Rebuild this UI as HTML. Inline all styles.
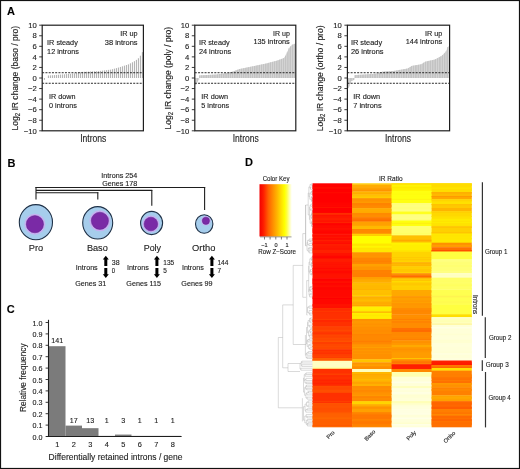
<!DOCTYPE html>
<html><head><meta charset="utf-8"><title>Figure</title>
<style>
html,body{margin:0;padding:0;background:#fff;}
svg{display:block;font-family:"Liberation Sans", sans-serif;will-change:transform;}
text{stroke:#1c1c1c;stroke-width:0.12px;}
</style></head>
<body>
<svg width="520" height="469" viewBox="0 0 520 469">
<rect x="0.5" y="0.5" width="519" height="468" fill="#fff" stroke="#111" stroke-width="1.2"/>
<text x="6.90" y="15.00" font-size="11" text-anchor="start" font-weight="bold" fill="#000">A</text>
<text x="7.40" y="166.70" font-size="11" text-anchor="start" font-weight="bold" fill="#000">B</text>
<text x="6.80" y="312.60" font-size="11" text-anchor="start" font-weight="bold" fill="#000">C</text>
<text x="245.00" y="166.30" font-size="11" text-anchor="start" font-weight="bold" fill="#000">D</text>
<line x1="44.40" y1="78.00" x2="44.40" y2="79.85" stroke="#a2a2a2" stroke-width="0.9"/>
<line x1="46.40" y1="77.97" x2="46.40" y2="78.00" stroke="#a2a2a2" stroke-width="0.9"/>
<line x1="48.40" y1="75.49" x2="48.40" y2="78.00" stroke="#a2a2a2" stroke-width="0.9"/>
<line x1="50.40" y1="75.36" x2="50.40" y2="78.00" stroke="#a2a2a2" stroke-width="0.9"/>
<line x1="52.40" y1="75.22" x2="52.40" y2="78.00" stroke="#a2a2a2" stroke-width="0.9"/>
<line x1="54.40" y1="75.08" x2="54.40" y2="78.00" stroke="#a2a2a2" stroke-width="0.9"/>
<line x1="56.40" y1="74.92" x2="56.40" y2="78.00" stroke="#a2a2a2" stroke-width="0.9"/>
<line x1="58.40" y1="74.76" x2="58.40" y2="78.00" stroke="#a2a2a2" stroke-width="0.9"/>
<line x1="60.40" y1="74.59" x2="60.40" y2="78.00" stroke="#a2a2a2" stroke-width="0.9"/>
<line x1="62.40" y1="74.43" x2="62.40" y2="78.00" stroke="#a2a2a2" stroke-width="0.9"/>
<line x1="64.40" y1="74.27" x2="64.40" y2="78.00" stroke="#a2a2a2" stroke-width="0.9"/>
<line x1="66.40" y1="74.11" x2="66.40" y2="78.00" stroke="#a2a2a2" stroke-width="0.9"/>
<line x1="68.40" y1="73.95" x2="68.40" y2="78.00" stroke="#a2a2a2" stroke-width="0.9"/>
<line x1="70.40" y1="73.79" x2="70.40" y2="78.00" stroke="#a2a2a2" stroke-width="0.9"/>
<line x1="72.40" y1="73.63" x2="72.40" y2="78.00" stroke="#a2a2a2" stroke-width="0.9"/>
<line x1="74.40" y1="73.39" x2="74.40" y2="78.00" stroke="#a2a2a2" stroke-width="0.9"/>
<line x1="76.40" y1="72.99" x2="76.40" y2="78.00" stroke="#a2a2a2" stroke-width="0.9"/>
<line x1="78.40" y1="72.58" x2="78.40" y2="78.00" stroke="#a2a2a2" stroke-width="0.9"/>
<line x1="80.40" y1="72.18" x2="80.40" y2="78.00" stroke="#a2a2a2" stroke-width="0.9"/>
<line x1="82.40" y1="71.89" x2="82.40" y2="78.00" stroke="#a2a2a2" stroke-width="0.9"/>
<line x1="84.40" y1="71.80" x2="84.40" y2="78.00" stroke="#a2a2a2" stroke-width="0.9"/>
<line x1="86.40" y1="71.70" x2="86.40" y2="78.00" stroke="#a2a2a2" stroke-width="0.9"/>
<line x1="88.40" y1="71.61" x2="88.40" y2="78.00" stroke="#a2a2a2" stroke-width="0.9"/>
<line x1="90.40" y1="71.51" x2="90.40" y2="78.00" stroke="#a2a2a2" stroke-width="0.9"/>
<line x1="92.40" y1="71.42" x2="92.40" y2="78.00" stroke="#a2a2a2" stroke-width="0.9"/>
<line x1="94.40" y1="71.32" x2="94.40" y2="78.00" stroke="#a2a2a2" stroke-width="0.9"/>
<line x1="96.40" y1="71.23" x2="96.40" y2="78.00" stroke="#a2a2a2" stroke-width="0.9"/>
<line x1="98.40" y1="71.12" x2="98.40" y2="78.00" stroke="#a2a2a2" stroke-width="0.9"/>
<line x1="100.40" y1="70.87" x2="100.40" y2="78.00" stroke="#a2a2a2" stroke-width="0.9"/>
<line x1="102.40" y1="70.63" x2="102.40" y2="78.00" stroke="#a2a2a2" stroke-width="0.9"/>
<line x1="104.40" y1="70.38" x2="104.40" y2="78.00" stroke="#a2a2a2" stroke-width="0.9"/>
<line x1="106.40" y1="70.13" x2="106.40" y2="78.00" stroke="#a2a2a2" stroke-width="0.9"/>
<line x1="108.40" y1="69.88" x2="108.40" y2="78.00" stroke="#a2a2a2" stroke-width="0.9"/>
<line x1="110.40" y1="69.63" x2="110.40" y2="78.00" stroke="#a2a2a2" stroke-width="0.9"/>
<line x1="112.40" y1="69.19" x2="112.40" y2="78.00" stroke="#a2a2a2" stroke-width="0.9"/>
<line x1="114.40" y1="68.65" x2="114.40" y2="78.00" stroke="#a2a2a2" stroke-width="0.9"/>
<line x1="116.40" y1="68.11" x2="116.40" y2="78.00" stroke="#a2a2a2" stroke-width="0.9"/>
<line x1="118.40" y1="67.57" x2="118.40" y2="78.00" stroke="#a2a2a2" stroke-width="0.9"/>
<line x1="120.40" y1="66.95" x2="120.40" y2="78.00" stroke="#a2a2a2" stroke-width="0.9"/>
<line x1="122.40" y1="66.30" x2="122.40" y2="78.00" stroke="#a2a2a2" stroke-width="0.9"/>
<line x1="124.40" y1="65.66" x2="124.40" y2="78.00" stroke="#a2a2a2" stroke-width="0.9"/>
<line x1="126.40" y1="65.01" x2="126.40" y2="78.00" stroke="#a2a2a2" stroke-width="0.9"/>
<line x1="128.40" y1="64.36" x2="128.40" y2="78.00" stroke="#a2a2a2" stroke-width="0.9"/>
<line x1="130.40" y1="63.35" x2="130.40" y2="78.00" stroke="#a2a2a2" stroke-width="0.9"/>
<line x1="132.40" y1="62.27" x2="132.40" y2="78.00" stroke="#a2a2a2" stroke-width="0.9"/>
<line x1="134.40" y1="61.19" x2="134.40" y2="78.00" stroke="#a2a2a2" stroke-width="0.9"/>
<line x1="136.40" y1="59.88" x2="136.40" y2="78.00" stroke="#a2a2a2" stroke-width="0.9"/>
<line x1="138.40" y1="58.26" x2="138.40" y2="78.00" stroke="#a2a2a2" stroke-width="0.9"/>
<line x1="140.40" y1="55.72" x2="140.40" y2="78.00" stroke="#a2a2a2" stroke-width="0.9"/>
<line x1="142.40" y1="52.13" x2="142.40" y2="78.00" stroke="#a2a2a2" stroke-width="0.9"/>
<line x1="42.20" y1="72.72" x2="143.40" y2="72.72" stroke="#2a2a2a" stroke-width="1.0" stroke-dasharray="2,1.25"/>
<line x1="42.20" y1="83.28" x2="143.40" y2="83.28" stroke="#2a2a2a" stroke-width="1.0" stroke-dasharray="2,1.25"/>
<rect x="42.20" y="25.20" width="101.20" height="105.60" fill="none" stroke="#1e1e1e" stroke-width="1.2"/>
<line x1="39.20" y1="25.20" x2="42.20" y2="25.20" stroke="#222" stroke-width="0.9"/>
<text x="36.70" y="27.90" font-size="7.7" text-anchor="end" fill="#1c1c1c">10</text>
<line x1="39.20" y1="35.76" x2="42.20" y2="35.76" stroke="#222" stroke-width="0.9"/>
<text x="36.70" y="38.46" font-size="7.7" text-anchor="end" fill="#1c1c1c">8</text>
<line x1="39.20" y1="46.32" x2="42.20" y2="46.32" stroke="#222" stroke-width="0.9"/>
<text x="36.70" y="49.02" font-size="7.7" text-anchor="end" fill="#1c1c1c">6</text>
<line x1="39.20" y1="56.88" x2="42.20" y2="56.88" stroke="#222" stroke-width="0.9"/>
<text x="36.70" y="59.58" font-size="7.7" text-anchor="end" fill="#1c1c1c">4</text>
<line x1="39.20" y1="67.44" x2="42.20" y2="67.44" stroke="#222" stroke-width="0.9"/>
<text x="36.70" y="70.14" font-size="7.7" text-anchor="end" fill="#1c1c1c">2</text>
<line x1="39.20" y1="78.00" x2="42.20" y2="78.00" stroke="#222" stroke-width="0.9"/>
<text x="36.70" y="80.70" font-size="7.7" text-anchor="end" fill="#1c1c1c">0</text>
<line x1="39.20" y1="88.56" x2="42.20" y2="88.56" stroke="#222" stroke-width="0.9"/>
<text x="36.70" y="91.26" font-size="7.7" text-anchor="end" fill="#1c1c1c">−2</text>
<line x1="39.20" y1="99.12" x2="42.20" y2="99.12" stroke="#222" stroke-width="0.9"/>
<text x="36.70" y="101.82" font-size="7.7" text-anchor="end" fill="#1c1c1c">−4</text>
<line x1="39.20" y1="109.68" x2="42.20" y2="109.68" stroke="#222" stroke-width="0.9"/>
<text x="36.70" y="112.38" font-size="7.7" text-anchor="end" fill="#1c1c1c">−6</text>
<line x1="39.20" y1="120.24" x2="42.20" y2="120.24" stroke="#222" stroke-width="0.9"/>
<text x="36.70" y="122.94" font-size="7.7" text-anchor="end" fill="#1c1c1c">−8</text>
<line x1="39.20" y1="130.80" x2="42.20" y2="130.80" stroke="#222" stroke-width="0.9"/>
<text x="36.70" y="133.50" font-size="7.7" text-anchor="end" fill="#1c1c1c">−10</text>
<text transform="translate(18.00,130.40) rotate(-90)" font-size="9.4" fill="#1c1c1c" textLength="104.60" lengthAdjust="spacingAndGlyphs">Log<tspan font-size="6.6" dy="2.2">2</tspan><tspan dy="-2.2"> IR change (baso / pro)</tspan></text>
<text x="80.20" y="142.30" font-size="10.4" text-anchor="start" textLength="26.20" lengthAdjust="spacingAndGlyphs" fill="#1c1c1c">Introns</text>
<text x="47.10" y="45.00" font-size="7.0" text-anchor="start" textLength="30.70" lengthAdjust="spacingAndGlyphs" fill="#1c1c1c">IR steady</text>
<text x="47.10" y="53.90" font-size="7.0" text-anchor="start" textLength="31.90" lengthAdjust="spacingAndGlyphs" fill="#1c1c1c">12 introns</text>
<text x="137.60" y="35.70" font-size="7.0" text-anchor="end" textLength="17.40" lengthAdjust="spacingAndGlyphs" fill="#1c1c1c">IR up</text>
<text x="137.60" y="44.60" font-size="7.0" text-anchor="end" textLength="32.80" lengthAdjust="spacingAndGlyphs" fill="#1c1c1c">38 introns</text>
<text x="49.00" y="99.20" font-size="7.0" text-anchor="start" textLength="26.50" lengthAdjust="spacingAndGlyphs" fill="#1c1c1c">IR down</text>
<text x="49.00" y="108.30" font-size="7.0" text-anchor="start" textLength="28.00" lengthAdjust="spacingAndGlyphs" fill="#1c1c1c">0 introns</text>
<rect x="195.60" y="78.00" width="0.56" height="6.86" fill="#c4c4c4"/>
<rect x="196.21" y="78.00" width="0.56" height="5.78" fill="#c4c4c4"/>
<rect x="196.82" y="78.00" width="0.56" height="4.70" fill="#c4c4c4"/>
<rect x="197.43" y="78.00" width="0.56" height="3.58" fill="#c4c4c4"/>
<rect x="198.03" y="78.00" width="0.56" height="2.46" fill="#c4c4c4"/>
<rect x="198.64" y="78.00" width="0.56" height="1.93" fill="#c4c4c4"/>
<rect x="199.25" y="75.36" width="0.56" height="2.64" fill="#c4c4c4"/>
<rect x="199.86" y="75.33" width="0.56" height="2.67" fill="#c4c4c4"/>
<rect x="200.47" y="75.30" width="0.56" height="2.70" fill="#c4c4c4"/>
<rect x="201.08" y="75.27" width="0.56" height="2.73" fill="#c4c4c4"/>
<rect x="201.69" y="75.24" width="0.56" height="2.76" fill="#c4c4c4"/>
<rect x="202.29" y="75.21" width="0.56" height="2.79" fill="#c4c4c4"/>
<rect x="202.90" y="75.18" width="0.56" height="2.82" fill="#c4c4c4"/>
<rect x="203.51" y="75.15" width="0.56" height="2.85" fill="#c4c4c4"/>
<rect x="204.12" y="75.12" width="0.56" height="2.88" fill="#c4c4c4"/>
<rect x="204.73" y="75.09" width="0.56" height="2.91" fill="#c4c4c4"/>
<rect x="205.34" y="75.06" width="0.56" height="2.94" fill="#c4c4c4"/>
<rect x="205.95" y="75.03" width="0.56" height="2.97" fill="#c4c4c4"/>
<rect x="206.55" y="75.00" width="0.56" height="3.00" fill="#c4c4c4"/>
<rect x="207.16" y="74.97" width="0.56" height="3.03" fill="#c4c4c4"/>
<rect x="207.77" y="74.94" width="0.56" height="3.06" fill="#c4c4c4"/>
<rect x="208.38" y="74.91" width="0.56" height="3.09" fill="#c4c4c4"/>
<rect x="208.99" y="74.88" width="0.56" height="3.12" fill="#c4c4c4"/>
<rect x="209.60" y="74.85" width="0.56" height="3.15" fill="#c4c4c4"/>
<rect x="210.20" y="74.82" width="0.56" height="3.18" fill="#c4c4c4"/>
<rect x="210.81" y="74.79" width="0.56" height="3.21" fill="#c4c4c4"/>
<rect x="211.42" y="74.76" width="0.56" height="3.24" fill="#c4c4c4"/>
<rect x="212.03" y="74.73" width="0.56" height="3.27" fill="#c4c4c4"/>
<rect x="212.64" y="74.70" width="0.56" height="3.30" fill="#c4c4c4"/>
<rect x="213.25" y="74.67" width="0.56" height="3.33" fill="#c4c4c4"/>
<rect x="213.86" y="74.65" width="0.56" height="3.35" fill="#c4c4c4"/>
<rect x="214.46" y="74.62" width="0.56" height="3.38" fill="#c4c4c4"/>
<rect x="215.07" y="74.59" width="0.56" height="3.41" fill="#c4c4c4"/>
<rect x="215.68" y="74.54" width="0.56" height="3.46" fill="#c4c4c4"/>
<rect x="216.29" y="74.45" width="0.56" height="3.55" fill="#c4c4c4"/>
<rect x="216.90" y="74.37" width="0.56" height="3.63" fill="#c4c4c4"/>
<rect x="217.51" y="74.29" width="0.56" height="3.71" fill="#c4c4c4"/>
<rect x="218.12" y="74.21" width="0.56" height="3.79" fill="#c4c4c4"/>
<rect x="218.72" y="74.13" width="0.56" height="3.87" fill="#c4c4c4"/>
<rect x="219.33" y="74.05" width="0.56" height="3.95" fill="#c4c4c4"/>
<rect x="219.94" y="73.97" width="0.56" height="4.03" fill="#c4c4c4"/>
<rect x="220.55" y="73.89" width="0.56" height="4.11" fill="#c4c4c4"/>
<rect x="221.16" y="73.81" width="0.56" height="4.19" fill="#c4c4c4"/>
<rect x="221.77" y="73.73" width="0.56" height="4.27" fill="#c4c4c4"/>
<rect x="222.38" y="73.64" width="0.56" height="4.36" fill="#c4c4c4"/>
<rect x="222.98" y="73.56" width="0.56" height="4.44" fill="#c4c4c4"/>
<rect x="223.59" y="73.48" width="0.56" height="4.52" fill="#c4c4c4"/>
<rect x="224.20" y="73.38" width="0.56" height="4.62" fill="#c4c4c4"/>
<rect x="224.81" y="73.28" width="0.56" height="4.72" fill="#c4c4c4"/>
<rect x="225.42" y="73.19" width="0.56" height="4.81" fill="#c4c4c4"/>
<rect x="226.03" y="73.09" width="0.56" height="4.91" fill="#c4c4c4"/>
<rect x="226.64" y="72.99" width="0.56" height="5.01" fill="#c4c4c4"/>
<rect x="227.24" y="72.89" width="0.56" height="5.11" fill="#c4c4c4"/>
<rect x="227.85" y="72.80" width="0.56" height="5.20" fill="#c4c4c4"/>
<rect x="228.46" y="72.69" width="0.56" height="5.31" fill="#c4c4c4"/>
<rect x="229.07" y="72.52" width="0.56" height="5.48" fill="#c4c4c4"/>
<rect x="229.68" y="72.36" width="0.56" height="5.64" fill="#c4c4c4"/>
<rect x="230.29" y="72.20" width="0.56" height="5.80" fill="#c4c4c4"/>
<rect x="230.90" y="72.04" width="0.56" height="5.96" fill="#c4c4c4"/>
<rect x="231.50" y="71.88" width="0.56" height="6.12" fill="#c4c4c4"/>
<rect x="232.11" y="71.71" width="0.56" height="6.29" fill="#c4c4c4"/>
<rect x="232.72" y="71.50" width="0.56" height="6.50" fill="#c4c4c4"/>
<rect x="233.33" y="71.27" width="0.56" height="6.73" fill="#c4c4c4"/>
<rect x="233.94" y="71.04" width="0.56" height="6.96" fill="#c4c4c4"/>
<rect x="234.55" y="70.81" width="0.56" height="7.19" fill="#c4c4c4"/>
<rect x="235.15" y="70.58" width="0.56" height="7.42" fill="#c4c4c4"/>
<rect x="235.76" y="70.35" width="0.56" height="7.65" fill="#c4c4c4"/>
<rect x="236.37" y="70.12" width="0.56" height="7.88" fill="#c4c4c4"/>
<rect x="236.98" y="69.88" width="0.56" height="8.12" fill="#c4c4c4"/>
<rect x="237.59" y="69.65" width="0.56" height="8.35" fill="#c4c4c4"/>
<rect x="238.20" y="69.42" width="0.56" height="8.58" fill="#c4c4c4"/>
<rect x="238.81" y="69.19" width="0.56" height="8.81" fill="#c4c4c4"/>
<rect x="239.41" y="68.99" width="0.56" height="9.01" fill="#c4c4c4"/>
<rect x="240.02" y="68.86" width="0.56" height="9.14" fill="#c4c4c4"/>
<rect x="240.63" y="68.74" width="0.56" height="9.26" fill="#c4c4c4"/>
<rect x="241.24" y="68.62" width="0.56" height="9.38" fill="#c4c4c4"/>
<rect x="241.85" y="68.49" width="0.56" height="9.51" fill="#c4c4c4"/>
<rect x="242.46" y="68.37" width="0.56" height="9.63" fill="#c4c4c4"/>
<rect x="243.07" y="68.24" width="0.56" height="9.76" fill="#c4c4c4"/>
<rect x="243.67" y="68.12" width="0.56" height="9.88" fill="#c4c4c4"/>
<rect x="244.28" y="67.99" width="0.56" height="10.01" fill="#c4c4c4"/>
<rect x="244.89" y="67.87" width="0.56" height="10.13" fill="#c4c4c4"/>
<rect x="245.50" y="67.74" width="0.56" height="10.26" fill="#c4c4c4"/>
<rect x="246.11" y="67.62" width="0.56" height="10.38" fill="#c4c4c4"/>
<rect x="246.72" y="67.49" width="0.56" height="10.51" fill="#c4c4c4"/>
<rect x="247.33" y="67.37" width="0.56" height="10.63" fill="#c4c4c4"/>
<rect x="247.93" y="67.24" width="0.56" height="10.76" fill="#c4c4c4"/>
<rect x="248.54" y="67.12" width="0.56" height="10.88" fill="#c4c4c4"/>
<rect x="249.15" y="67.00" width="0.56" height="11.00" fill="#c4c4c4"/>
<rect x="249.76" y="66.87" width="0.56" height="11.13" fill="#c4c4c4"/>
<rect x="250.37" y="66.75" width="0.56" height="11.25" fill="#c4c4c4"/>
<rect x="250.98" y="66.62" width="0.56" height="11.38" fill="#c4c4c4"/>
<rect x="251.59" y="66.50" width="0.56" height="11.50" fill="#c4c4c4"/>
<rect x="252.19" y="66.37" width="0.56" height="11.63" fill="#c4c4c4"/>
<rect x="252.80" y="66.25" width="0.56" height="11.75" fill="#c4c4c4"/>
<rect x="253.41" y="66.12" width="0.56" height="11.88" fill="#c4c4c4"/>
<rect x="254.02" y="65.99" width="0.56" height="12.01" fill="#c4c4c4"/>
<rect x="254.63" y="65.86" width="0.56" height="12.14" fill="#c4c4c4"/>
<rect x="255.24" y="65.74" width="0.56" height="12.26" fill="#c4c4c4"/>
<rect x="255.85" y="65.61" width="0.56" height="12.39" fill="#c4c4c4"/>
<rect x="256.45" y="65.48" width="0.56" height="12.52" fill="#c4c4c4"/>
<rect x="257.06" y="65.35" width="0.56" height="12.65" fill="#c4c4c4"/>
<rect x="257.67" y="65.23" width="0.56" height="12.77" fill="#c4c4c4"/>
<rect x="258.28" y="65.10" width="0.56" height="12.90" fill="#c4c4c4"/>
<rect x="258.89" y="64.97" width="0.56" height="13.03" fill="#c4c4c4"/>
<rect x="259.50" y="64.85" width="0.56" height="13.15" fill="#c4c4c4"/>
<rect x="260.10" y="64.72" width="0.56" height="13.28" fill="#c4c4c4"/>
<rect x="260.71" y="64.59" width="0.56" height="13.41" fill="#c4c4c4"/>
<rect x="261.32" y="64.46" width="0.56" height="13.54" fill="#c4c4c4"/>
<rect x="261.93" y="64.34" width="0.56" height="13.66" fill="#c4c4c4"/>
<rect x="262.54" y="64.21" width="0.56" height="13.79" fill="#c4c4c4"/>
<rect x="263.15" y="64.08" width="0.56" height="13.92" fill="#c4c4c4"/>
<rect x="263.76" y="63.95" width="0.56" height="14.05" fill="#c4c4c4"/>
<rect x="264.36" y="63.83" width="0.56" height="14.17" fill="#c4c4c4"/>
<rect x="264.97" y="63.70" width="0.56" height="14.30" fill="#c4c4c4"/>
<rect x="265.58" y="63.57" width="0.56" height="14.43" fill="#c4c4c4"/>
<rect x="266.19" y="63.44" width="0.56" height="14.56" fill="#c4c4c4"/>
<rect x="266.80" y="63.27" width="0.56" height="14.73" fill="#c4c4c4"/>
<rect x="267.41" y="63.11" width="0.56" height="14.89" fill="#c4c4c4"/>
<rect x="268.02" y="62.95" width="0.56" height="15.05" fill="#c4c4c4"/>
<rect x="268.62" y="62.79" width="0.56" height="15.21" fill="#c4c4c4"/>
<rect x="269.23" y="62.63" width="0.56" height="15.37" fill="#c4c4c4"/>
<rect x="269.84" y="62.46" width="0.56" height="15.54" fill="#c4c4c4"/>
<rect x="270.45" y="62.30" width="0.56" height="15.70" fill="#c4c4c4"/>
<rect x="271.06" y="62.14" width="0.56" height="15.86" fill="#c4c4c4"/>
<rect x="271.67" y="61.98" width="0.56" height="16.02" fill="#c4c4c4"/>
<rect x="272.28" y="61.82" width="0.56" height="16.18" fill="#c4c4c4"/>
<rect x="272.88" y="61.65" width="0.56" height="16.35" fill="#c4c4c4"/>
<rect x="273.49" y="61.49" width="0.56" height="16.51" fill="#c4c4c4"/>
<rect x="274.10" y="61.33" width="0.56" height="16.67" fill="#c4c4c4"/>
<rect x="274.71" y="61.17" width="0.56" height="16.83" fill="#c4c4c4"/>
<rect x="275.32" y="61.01" width="0.56" height="16.99" fill="#c4c4c4"/>
<rect x="275.93" y="60.84" width="0.56" height="17.16" fill="#c4c4c4"/>
<rect x="276.54" y="60.68" width="0.56" height="17.32" fill="#c4c4c4"/>
<rect x="277.14" y="60.50" width="0.56" height="17.50" fill="#c4c4c4"/>
<rect x="277.75" y="60.27" width="0.56" height="17.73" fill="#c4c4c4"/>
<rect x="278.36" y="60.03" width="0.56" height="17.97" fill="#c4c4c4"/>
<rect x="278.97" y="59.80" width="0.56" height="18.20" fill="#c4c4c4"/>
<rect x="279.58" y="59.57" width="0.56" height="18.43" fill="#c4c4c4"/>
<rect x="280.19" y="59.34" width="0.56" height="18.66" fill="#c4c4c4"/>
<rect x="280.80" y="59.11" width="0.56" height="18.89" fill="#c4c4c4"/>
<rect x="281.40" y="58.88" width="0.56" height="19.12" fill="#c4c4c4"/>
<rect x="282.01" y="58.65" width="0.56" height="19.35" fill="#c4c4c4"/>
<rect x="282.62" y="58.41" width="0.56" height="19.59" fill="#c4c4c4"/>
<rect x="283.23" y="58.18" width="0.56" height="19.82" fill="#c4c4c4"/>
<rect x="283.84" y="57.95" width="0.56" height="20.05" fill="#c4c4c4"/>
<rect x="284.45" y="56.89" width="0.56" height="21.11" fill="#c4c4c4"/>
<rect x="285.05" y="55.77" width="0.56" height="22.23" fill="#c4c4c4"/>
<rect x="285.66" y="54.65" width="0.56" height="23.35" fill="#c4c4c4"/>
<rect x="286.27" y="53.53" width="0.56" height="24.47" fill="#c4c4c4"/>
<rect x="286.88" y="52.22" width="0.56" height="25.78" fill="#c4c4c4"/>
<rect x="287.49" y="50.84" width="0.56" height="27.16" fill="#c4c4c4"/>
<rect x="288.10" y="49.45" width="0.56" height="28.55" fill="#c4c4c4"/>
<rect x="288.71" y="48.25" width="0.56" height="29.75" fill="#c4c4c4"/>
<rect x="289.31" y="47.56" width="0.56" height="30.44" fill="#c4c4c4"/>
<rect x="289.92" y="46.87" width="0.56" height="31.13" fill="#c4c4c4"/>
<rect x="290.53" y="46.19" width="0.56" height="31.81" fill="#c4c4c4"/>
<rect x="291.14" y="45.50" width="0.56" height="32.50" fill="#c4c4c4"/>
<rect x="291.75" y="44.81" width="0.56" height="33.19" fill="#c4c4c4"/>
<rect x="292.36" y="44.54" width="0.56" height="33.46" fill="#c4c4c4"/>
<rect x="292.97" y="44.33" width="0.56" height="33.67" fill="#c4c4c4"/>
<rect x="293.57" y="44.11" width="0.56" height="33.89" fill="#c4c4c4"/>
<rect x="294.18" y="43.90" width="0.56" height="34.10" fill="#c4c4c4"/>
<rect x="294.79" y="43.68" width="0.56" height="34.32" fill="#c4c4c4"/>
<rect x="195.60" y="78.00" width="0.50" height="6.86" fill="#b0b0b0"/>
<rect x="197.43" y="78.00" width="0.50" height="3.58" fill="#b0b0b0"/>
<rect x="199.25" y="75.36" width="0.50" height="2.64" fill="#b0b0b0"/>
<rect x="201.08" y="75.27" width="0.50" height="2.73" fill="#b0b0b0"/>
<rect x="202.90" y="75.18" width="0.50" height="2.82" fill="#b0b0b0"/>
<rect x="204.73" y="75.09" width="0.50" height="2.91" fill="#b0b0b0"/>
<rect x="206.55" y="75.00" width="0.50" height="3.00" fill="#b0b0b0"/>
<rect x="208.38" y="74.91" width="0.50" height="3.09" fill="#b0b0b0"/>
<rect x="210.20" y="74.82" width="0.50" height="3.18" fill="#b0b0b0"/>
<rect x="212.03" y="74.73" width="0.50" height="3.27" fill="#b0b0b0"/>
<rect x="213.86" y="74.65" width="0.50" height="3.35" fill="#b0b0b0"/>
<rect x="215.68" y="74.54" width="0.50" height="3.46" fill="#b0b0b0"/>
<rect x="217.51" y="74.29" width="0.50" height="3.71" fill="#b0b0b0"/>
<rect x="219.33" y="74.05" width="0.50" height="3.95" fill="#b0b0b0"/>
<rect x="221.16" y="73.81" width="0.50" height="4.19" fill="#b0b0b0"/>
<rect x="222.98" y="73.56" width="0.50" height="4.44" fill="#b0b0b0"/>
<rect x="224.81" y="73.28" width="0.50" height="4.72" fill="#b0b0b0"/>
<rect x="226.64" y="72.99" width="0.50" height="5.01" fill="#b0b0b0"/>
<rect x="228.46" y="72.69" width="0.50" height="5.31" fill="#b0b0b0"/>
<rect x="230.29" y="72.20" width="0.50" height="5.80" fill="#b0b0b0"/>
<rect x="232.11" y="71.71" width="0.50" height="6.29" fill="#b0b0b0"/>
<rect x="233.94" y="71.04" width="0.50" height="6.96" fill="#b0b0b0"/>
<rect x="235.76" y="70.35" width="0.50" height="7.65" fill="#b0b0b0"/>
<rect x="237.59" y="69.65" width="0.50" height="8.35" fill="#b0b0b0"/>
<rect x="239.41" y="68.99" width="0.50" height="9.01" fill="#b0b0b0"/>
<rect x="241.24" y="68.62" width="0.50" height="9.38" fill="#b0b0b0"/>
<rect x="243.07" y="68.24" width="0.50" height="9.76" fill="#b0b0b0"/>
<rect x="244.89" y="67.87" width="0.50" height="10.13" fill="#b0b0b0"/>
<rect x="246.72" y="67.49" width="0.50" height="10.51" fill="#b0b0b0"/>
<rect x="248.54" y="67.12" width="0.50" height="10.88" fill="#b0b0b0"/>
<rect x="250.37" y="66.75" width="0.50" height="11.25" fill="#b0b0b0"/>
<rect x="252.19" y="66.37" width="0.50" height="11.63" fill="#b0b0b0"/>
<rect x="254.02" y="65.99" width="0.50" height="12.01" fill="#b0b0b0"/>
<rect x="255.85" y="65.61" width="0.50" height="12.39" fill="#b0b0b0"/>
<rect x="257.67" y="65.23" width="0.50" height="12.77" fill="#b0b0b0"/>
<rect x="259.50" y="64.85" width="0.50" height="13.15" fill="#b0b0b0"/>
<rect x="261.32" y="64.46" width="0.50" height="13.54" fill="#b0b0b0"/>
<rect x="263.15" y="64.08" width="0.50" height="13.92" fill="#b0b0b0"/>
<rect x="264.97" y="63.70" width="0.50" height="14.30" fill="#b0b0b0"/>
<rect x="266.80" y="63.27" width="0.50" height="14.73" fill="#b0b0b0"/>
<rect x="268.62" y="62.79" width="0.50" height="15.21" fill="#b0b0b0"/>
<rect x="270.45" y="62.30" width="0.50" height="15.70" fill="#b0b0b0"/>
<rect x="272.28" y="61.82" width="0.50" height="16.18" fill="#b0b0b0"/>
<rect x="274.10" y="61.33" width="0.50" height="16.67" fill="#b0b0b0"/>
<rect x="275.93" y="60.84" width="0.50" height="17.16" fill="#b0b0b0"/>
<rect x="277.75" y="60.27" width="0.50" height="17.73" fill="#b0b0b0"/>
<rect x="279.58" y="59.57" width="0.50" height="18.43" fill="#b0b0b0"/>
<rect x="281.40" y="58.88" width="0.50" height="19.12" fill="#b0b0b0"/>
<rect x="283.23" y="58.18" width="0.50" height="19.82" fill="#b0b0b0"/>
<rect x="285.05" y="55.77" width="0.50" height="22.23" fill="#b0b0b0"/>
<rect x="286.88" y="52.22" width="0.50" height="25.78" fill="#b0b0b0"/>
<rect x="288.71" y="48.25" width="0.50" height="29.75" fill="#b0b0b0"/>
<rect x="290.53" y="46.19" width="0.50" height="31.81" fill="#b0b0b0"/>
<rect x="292.36" y="44.54" width="0.50" height="33.46" fill="#b0b0b0"/>
<rect x="294.18" y="43.90" width="0.50" height="34.10" fill="#b0b0b0"/>
<line x1="194.80" y1="72.72" x2="295.80" y2="72.72" stroke="#2a2a2a" stroke-width="1.0" stroke-dasharray="2,1.25"/>
<line x1="194.80" y1="83.28" x2="295.80" y2="83.28" stroke="#2a2a2a" stroke-width="1.0" stroke-dasharray="2,1.25"/>
<rect x="194.80" y="25.20" width="101.00" height="105.60" fill="none" stroke="#1e1e1e" stroke-width="1.2"/>
<line x1="191.80" y1="25.20" x2="194.80" y2="25.20" stroke="#222" stroke-width="0.9"/>
<text x="189.30" y="27.90" font-size="7.7" text-anchor="end" fill="#1c1c1c">10</text>
<line x1="191.80" y1="35.76" x2="194.80" y2="35.76" stroke="#222" stroke-width="0.9"/>
<text x="189.30" y="38.46" font-size="7.7" text-anchor="end" fill="#1c1c1c">8</text>
<line x1="191.80" y1="46.32" x2="194.80" y2="46.32" stroke="#222" stroke-width="0.9"/>
<text x="189.30" y="49.02" font-size="7.7" text-anchor="end" fill="#1c1c1c">6</text>
<line x1="191.80" y1="56.88" x2="194.80" y2="56.88" stroke="#222" stroke-width="0.9"/>
<text x="189.30" y="59.58" font-size="7.7" text-anchor="end" fill="#1c1c1c">4</text>
<line x1="191.80" y1="67.44" x2="194.80" y2="67.44" stroke="#222" stroke-width="0.9"/>
<text x="189.30" y="70.14" font-size="7.7" text-anchor="end" fill="#1c1c1c">2</text>
<line x1="191.80" y1="78.00" x2="194.80" y2="78.00" stroke="#222" stroke-width="0.9"/>
<text x="189.30" y="80.70" font-size="7.7" text-anchor="end" fill="#1c1c1c">0</text>
<line x1="191.80" y1="88.56" x2="194.80" y2="88.56" stroke="#222" stroke-width="0.9"/>
<text x="189.30" y="91.26" font-size="7.7" text-anchor="end" fill="#1c1c1c">−2</text>
<line x1="191.80" y1="99.12" x2="194.80" y2="99.12" stroke="#222" stroke-width="0.9"/>
<text x="189.30" y="101.82" font-size="7.7" text-anchor="end" fill="#1c1c1c">−4</text>
<line x1="191.80" y1="109.68" x2="194.80" y2="109.68" stroke="#222" stroke-width="0.9"/>
<text x="189.30" y="112.38" font-size="7.7" text-anchor="end" fill="#1c1c1c">−6</text>
<line x1="191.80" y1="120.24" x2="194.80" y2="120.24" stroke="#222" stroke-width="0.9"/>
<text x="189.30" y="122.94" font-size="7.7" text-anchor="end" fill="#1c1c1c">−8</text>
<line x1="191.80" y1="130.80" x2="194.80" y2="130.80" stroke="#222" stroke-width="0.9"/>
<text x="189.30" y="133.50" font-size="7.7" text-anchor="end" fill="#1c1c1c">−10</text>
<text transform="translate(170.60,129.60) rotate(-90)" font-size="9.4" fill="#1c1c1c" textLength="102.80" lengthAdjust="spacingAndGlyphs">Log<tspan font-size="6.6" dy="2.2">2</tspan><tspan dy="-2.2"> IR change (poly / pro)</tspan></text>
<text x="232.70" y="142.30" font-size="10.4" text-anchor="start" textLength="26.10" lengthAdjust="spacingAndGlyphs" fill="#1c1c1c">Introns</text>
<text x="198.90" y="45.30" font-size="7.0" text-anchor="start" textLength="30.80" lengthAdjust="spacingAndGlyphs" fill="#1c1c1c">IR steady</text>
<text x="198.90" y="53.90" font-size="7.0" text-anchor="start" textLength="32.30" lengthAdjust="spacingAndGlyphs" fill="#1c1c1c">24 introns</text>
<text x="289.80" y="35.70" font-size="7.0" text-anchor="end" textLength="16.80" lengthAdjust="spacingAndGlyphs" fill="#1c1c1c">IR up</text>
<text x="289.80" y="44.30" font-size="7.0" text-anchor="end" textLength="36.40" lengthAdjust="spacingAndGlyphs" fill="#1c1c1c">135 introns</text>
<text x="201.30" y="99.30" font-size="7.0" text-anchor="start" textLength="26.90" lengthAdjust="spacingAndGlyphs" fill="#1c1c1c">IR down</text>
<text x="201.30" y="108.20" font-size="7.0" text-anchor="start" textLength="27.90" lengthAdjust="spacingAndGlyphs" fill="#1c1c1c">5 introns</text>
<rect x="348.20" y="78.00" width="0.52" height="10.03" fill="#c4c4c4"/>
<rect x="348.77" y="78.00" width="0.52" height="9.03" fill="#c4c4c4"/>
<rect x="349.34" y="78.00" width="0.52" height="8.03" fill="#c4c4c4"/>
<rect x="349.91" y="78.00" width="0.52" height="5.26" fill="#c4c4c4"/>
<rect x="350.48" y="78.00" width="0.52" height="3.55" fill="#c4c4c4"/>
<rect x="351.05" y="78.00" width="0.52" height="3.25" fill="#c4c4c4"/>
<rect x="351.62" y="78.00" width="0.52" height="2.95" fill="#c4c4c4"/>
<rect x="352.19" y="78.00" width="0.52" height="2.65" fill="#c4c4c4"/>
<rect x="352.76" y="78.00" width="0.52" height="2.35" fill="#c4c4c4"/>
<rect x="353.34" y="78.00" width="0.52" height="2.05" fill="#c4c4c4"/>
<rect x="353.91" y="78.00" width="0.52" height="1.75" fill="#c4c4c4"/>
<rect x="354.48" y="75.09" width="0.52" height="2.91" fill="#c4c4c4"/>
<rect x="355.05" y="75.05" width="0.52" height="2.95" fill="#c4c4c4"/>
<rect x="355.62" y="75.02" width="0.52" height="2.98" fill="#c4c4c4"/>
<rect x="356.19" y="74.99" width="0.52" height="3.01" fill="#c4c4c4"/>
<rect x="356.76" y="74.95" width="0.52" height="3.05" fill="#c4c4c4"/>
<rect x="357.33" y="74.92" width="0.52" height="3.08" fill="#c4c4c4"/>
<rect x="357.90" y="74.88" width="0.52" height="3.12" fill="#c4c4c4"/>
<rect x="358.47" y="74.85" width="0.52" height="3.15" fill="#c4c4c4"/>
<rect x="359.04" y="74.82" width="0.52" height="3.18" fill="#c4c4c4"/>
<rect x="359.61" y="74.78" width="0.52" height="3.22" fill="#c4c4c4"/>
<rect x="360.18" y="74.75" width="0.52" height="3.25" fill="#c4c4c4"/>
<rect x="360.75" y="74.72" width="0.52" height="3.28" fill="#c4c4c4"/>
<rect x="361.32" y="74.68" width="0.52" height="3.32" fill="#c4c4c4"/>
<rect x="361.89" y="74.65" width="0.52" height="3.35" fill="#c4c4c4"/>
<rect x="362.47" y="74.62" width="0.52" height="3.38" fill="#c4c4c4"/>
<rect x="363.04" y="74.58" width="0.52" height="3.42" fill="#c4c4c4"/>
<rect x="363.61" y="74.55" width="0.52" height="3.45" fill="#c4c4c4"/>
<rect x="364.18" y="74.51" width="0.52" height="3.49" fill="#c4c4c4"/>
<rect x="364.75" y="74.47" width="0.52" height="3.53" fill="#c4c4c4"/>
<rect x="365.32" y="74.43" width="0.52" height="3.57" fill="#c4c4c4"/>
<rect x="365.89" y="74.40" width="0.52" height="3.60" fill="#c4c4c4"/>
<rect x="366.46" y="74.36" width="0.52" height="3.64" fill="#c4c4c4"/>
<rect x="367.03" y="74.32" width="0.52" height="3.68" fill="#c4c4c4"/>
<rect x="367.60" y="74.28" width="0.52" height="3.72" fill="#c4c4c4"/>
<rect x="368.17" y="74.25" width="0.52" height="3.75" fill="#c4c4c4"/>
<rect x="368.74" y="74.21" width="0.52" height="3.79" fill="#c4c4c4"/>
<rect x="369.31" y="74.17" width="0.52" height="3.83" fill="#c4c4c4"/>
<rect x="369.88" y="74.13" width="0.52" height="3.87" fill="#c4c4c4"/>
<rect x="370.45" y="74.10" width="0.52" height="3.90" fill="#c4c4c4"/>
<rect x="371.02" y="74.06" width="0.52" height="3.94" fill="#c4c4c4"/>
<rect x="371.60" y="74.02" width="0.52" height="3.98" fill="#c4c4c4"/>
<rect x="372.17" y="73.98" width="0.52" height="4.02" fill="#c4c4c4"/>
<rect x="372.74" y="73.95" width="0.52" height="4.05" fill="#c4c4c4"/>
<rect x="373.31" y="73.91" width="0.52" height="4.09" fill="#c4c4c4"/>
<rect x="373.88" y="73.87" width="0.52" height="4.13" fill="#c4c4c4"/>
<rect x="374.45" y="73.83" width="0.52" height="4.17" fill="#c4c4c4"/>
<rect x="375.02" y="73.80" width="0.52" height="4.20" fill="#c4c4c4"/>
<rect x="375.59" y="73.69" width="0.52" height="4.31" fill="#c4c4c4"/>
<rect x="376.16" y="73.52" width="0.52" height="4.48" fill="#c4c4c4"/>
<rect x="376.73" y="73.35" width="0.52" height="4.65" fill="#c4c4c4"/>
<rect x="377.30" y="73.18" width="0.52" height="4.82" fill="#c4c4c4"/>
<rect x="377.87" y="73.01" width="0.52" height="4.99" fill="#c4c4c4"/>
<rect x="378.44" y="72.84" width="0.52" height="5.16" fill="#c4c4c4"/>
<rect x="379.01" y="72.67" width="0.52" height="5.33" fill="#c4c4c4"/>
<rect x="379.58" y="72.49" width="0.52" height="5.51" fill="#c4c4c4"/>
<rect x="380.15" y="72.32" width="0.52" height="5.68" fill="#c4c4c4"/>
<rect x="380.73" y="72.15" width="0.52" height="5.85" fill="#c4c4c4"/>
<rect x="381.30" y="71.98" width="0.52" height="6.02" fill="#c4c4c4"/>
<rect x="381.87" y="71.81" width="0.52" height="6.19" fill="#c4c4c4"/>
<rect x="382.44" y="71.66" width="0.52" height="6.34" fill="#c4c4c4"/>
<rect x="383.01" y="71.62" width="0.52" height="6.38" fill="#c4c4c4"/>
<rect x="383.58" y="71.58" width="0.52" height="6.42" fill="#c4c4c4"/>
<rect x="384.15" y="71.54" width="0.52" height="6.46" fill="#c4c4c4"/>
<rect x="384.72" y="71.50" width="0.52" height="6.50" fill="#c4c4c4"/>
<rect x="385.29" y="71.46" width="0.52" height="6.54" fill="#c4c4c4"/>
<rect x="385.86" y="71.43" width="0.52" height="6.57" fill="#c4c4c4"/>
<rect x="386.43" y="71.39" width="0.52" height="6.61" fill="#c4c4c4"/>
<rect x="387.00" y="71.35" width="0.52" height="6.65" fill="#c4c4c4"/>
<rect x="387.57" y="71.31" width="0.52" height="6.69" fill="#c4c4c4"/>
<rect x="388.14" y="71.27" width="0.52" height="6.73" fill="#c4c4c4"/>
<rect x="388.71" y="71.23" width="0.52" height="6.77" fill="#c4c4c4"/>
<rect x="389.28" y="71.19" width="0.52" height="6.81" fill="#c4c4c4"/>
<rect x="389.86" y="71.15" width="0.52" height="6.85" fill="#c4c4c4"/>
<rect x="390.43" y="71.11" width="0.52" height="6.89" fill="#c4c4c4"/>
<rect x="391.00" y="71.08" width="0.52" height="6.92" fill="#c4c4c4"/>
<rect x="391.57" y="71.04" width="0.52" height="6.96" fill="#c4c4c4"/>
<rect x="392.14" y="71.00" width="0.52" height="7.00" fill="#c4c4c4"/>
<rect x="392.71" y="70.96" width="0.52" height="7.04" fill="#c4c4c4"/>
<rect x="393.28" y="70.92" width="0.52" height="7.08" fill="#c4c4c4"/>
<rect x="393.85" y="70.88" width="0.52" height="7.12" fill="#c4c4c4"/>
<rect x="394.42" y="70.80" width="0.52" height="7.20" fill="#c4c4c4"/>
<rect x="394.99" y="70.70" width="0.52" height="7.30" fill="#c4c4c4"/>
<rect x="395.56" y="70.60" width="0.52" height="7.40" fill="#c4c4c4"/>
<rect x="396.13" y="70.49" width="0.52" height="7.51" fill="#c4c4c4"/>
<rect x="396.70" y="70.39" width="0.52" height="7.61" fill="#c4c4c4"/>
<rect x="397.27" y="70.29" width="0.52" height="7.71" fill="#c4c4c4"/>
<rect x="397.84" y="70.19" width="0.52" height="7.81" fill="#c4c4c4"/>
<rect x="398.41" y="70.09" width="0.52" height="7.91" fill="#c4c4c4"/>
<rect x="398.99" y="69.99" width="0.52" height="8.01" fill="#c4c4c4"/>
<rect x="399.56" y="69.89" width="0.52" height="8.11" fill="#c4c4c4"/>
<rect x="400.13" y="69.79" width="0.52" height="8.21" fill="#c4c4c4"/>
<rect x="400.70" y="69.69" width="0.52" height="8.31" fill="#c4c4c4"/>
<rect x="401.27" y="69.59" width="0.52" height="8.41" fill="#c4c4c4"/>
<rect x="401.84" y="69.49" width="0.52" height="8.51" fill="#c4c4c4"/>
<rect x="402.41" y="69.39" width="0.52" height="8.61" fill="#c4c4c4"/>
<rect x="402.98" y="69.29" width="0.52" height="8.71" fill="#c4c4c4"/>
<rect x="403.55" y="69.19" width="0.52" height="8.81" fill="#c4c4c4"/>
<rect x="404.12" y="69.08" width="0.52" height="8.92" fill="#c4c4c4"/>
<rect x="404.69" y="68.98" width="0.52" height="9.02" fill="#c4c4c4"/>
<rect x="405.26" y="68.88" width="0.52" height="9.12" fill="#c4c4c4"/>
<rect x="405.83" y="68.78" width="0.52" height="9.22" fill="#c4c4c4"/>
<rect x="406.40" y="68.68" width="0.52" height="9.32" fill="#c4c4c4"/>
<rect x="406.97" y="68.58" width="0.52" height="9.42" fill="#c4c4c4"/>
<rect x="407.54" y="68.44" width="0.52" height="9.56" fill="#c4c4c4"/>
<rect x="408.12" y="68.08" width="0.52" height="9.92" fill="#c4c4c4"/>
<rect x="408.69" y="67.72" width="0.52" height="10.28" fill="#c4c4c4"/>
<rect x="409.26" y="67.37" width="0.52" height="10.63" fill="#c4c4c4"/>
<rect x="409.83" y="67.01" width="0.52" height="10.99" fill="#c4c4c4"/>
<rect x="410.40" y="66.65" width="0.52" height="11.35" fill="#c4c4c4"/>
<rect x="410.97" y="66.30" width="0.52" height="11.70" fill="#c4c4c4"/>
<rect x="411.54" y="65.94" width="0.52" height="12.06" fill="#c4c4c4"/>
<rect x="412.11" y="65.78" width="0.52" height="12.22" fill="#c4c4c4"/>
<rect x="412.68" y="65.68" width="0.52" height="12.32" fill="#c4c4c4"/>
<rect x="413.25" y="65.59" width="0.52" height="12.41" fill="#c4c4c4"/>
<rect x="413.82" y="65.49" width="0.52" height="12.51" fill="#c4c4c4"/>
<rect x="414.39" y="65.39" width="0.52" height="12.61" fill="#c4c4c4"/>
<rect x="414.96" y="65.30" width="0.52" height="12.70" fill="#c4c4c4"/>
<rect x="415.53" y="65.20" width="0.52" height="12.80" fill="#c4c4c4"/>
<rect x="416.10" y="65.10" width="0.52" height="12.90" fill="#c4c4c4"/>
<rect x="416.67" y="65.01" width="0.52" height="12.99" fill="#c4c4c4"/>
<rect x="417.25" y="64.91" width="0.52" height="13.09" fill="#c4c4c4"/>
<rect x="417.82" y="64.81" width="0.52" height="13.19" fill="#c4c4c4"/>
<rect x="418.39" y="64.72" width="0.52" height="13.28" fill="#c4c4c4"/>
<rect x="418.96" y="64.62" width="0.52" height="13.38" fill="#c4c4c4"/>
<rect x="419.53" y="64.52" width="0.52" height="13.48" fill="#c4c4c4"/>
<rect x="420.10" y="64.43" width="0.52" height="13.57" fill="#c4c4c4"/>
<rect x="420.67" y="64.33" width="0.52" height="13.67" fill="#c4c4c4"/>
<rect x="421.24" y="64.13" width="0.52" height="13.87" fill="#c4c4c4"/>
<rect x="421.81" y="63.76" width="0.52" height="14.24" fill="#c4c4c4"/>
<rect x="422.38" y="63.39" width="0.52" height="14.61" fill="#c4c4c4"/>
<rect x="422.95" y="63.03" width="0.52" height="14.97" fill="#c4c4c4"/>
<rect x="423.52" y="62.66" width="0.52" height="15.34" fill="#c4c4c4"/>
<rect x="424.09" y="62.30" width="0.52" height="15.70" fill="#c4c4c4"/>
<rect x="424.66" y="61.93" width="0.52" height="16.07" fill="#c4c4c4"/>
<rect x="425.23" y="61.61" width="0.52" height="16.39" fill="#c4c4c4"/>
<rect x="425.80" y="61.48" width="0.52" height="16.52" fill="#c4c4c4"/>
<rect x="426.38" y="61.36" width="0.52" height="16.64" fill="#c4c4c4"/>
<rect x="426.95" y="61.23" width="0.52" height="16.77" fill="#c4c4c4"/>
<rect x="427.52" y="61.10" width="0.52" height="16.90" fill="#c4c4c4"/>
<rect x="428.09" y="60.98" width="0.52" height="17.02" fill="#c4c4c4"/>
<rect x="428.66" y="60.85" width="0.52" height="17.15" fill="#c4c4c4"/>
<rect x="429.23" y="60.72" width="0.52" height="17.28" fill="#c4c4c4"/>
<rect x="429.80" y="60.60" width="0.52" height="17.40" fill="#c4c4c4"/>
<rect x="430.37" y="60.47" width="0.52" height="17.53" fill="#c4c4c4"/>
<rect x="430.94" y="60.35" width="0.52" height="17.65" fill="#c4c4c4"/>
<rect x="431.51" y="60.22" width="0.52" height="17.78" fill="#c4c4c4"/>
<rect x="432.08" y="60.09" width="0.52" height="17.91" fill="#c4c4c4"/>
<rect x="432.65" y="59.97" width="0.52" height="18.03" fill="#c4c4c4"/>
<rect x="433.22" y="59.84" width="0.52" height="18.16" fill="#c4c4c4"/>
<rect x="433.79" y="59.71" width="0.52" height="18.29" fill="#c4c4c4"/>
<rect x="434.36" y="59.59" width="0.52" height="18.41" fill="#c4c4c4"/>
<rect x="434.93" y="59.38" width="0.52" height="18.62" fill="#c4c4c4"/>
<rect x="435.51" y="59.07" width="0.52" height="18.93" fill="#c4c4c4"/>
<rect x="436.08" y="58.76" width="0.52" height="19.24" fill="#c4c4c4"/>
<rect x="436.65" y="58.45" width="0.52" height="19.55" fill="#c4c4c4"/>
<rect x="437.22" y="58.14" width="0.52" height="19.86" fill="#c4c4c4"/>
<rect x="437.79" y="57.83" width="0.52" height="20.17" fill="#c4c4c4"/>
<rect x="438.36" y="57.52" width="0.52" height="20.48" fill="#c4c4c4"/>
<rect x="438.93" y="57.21" width="0.52" height="20.79" fill="#c4c4c4"/>
<rect x="439.50" y="56.91" width="0.52" height="21.09" fill="#c4c4c4"/>
<rect x="440.07" y="56.60" width="0.52" height="21.40" fill="#c4c4c4"/>
<rect x="440.64" y="56.29" width="0.52" height="21.71" fill="#c4c4c4"/>
<rect x="441.21" y="55.98" width="0.52" height="22.02" fill="#c4c4c4"/>
<rect x="441.78" y="55.53" width="0.52" height="22.47" fill="#c4c4c4"/>
<rect x="442.35" y="54.95" width="0.52" height="23.05" fill="#c4c4c4"/>
<rect x="442.92" y="54.36" width="0.52" height="23.64" fill="#c4c4c4"/>
<rect x="443.49" y="53.78" width="0.52" height="24.22" fill="#c4c4c4"/>
<rect x="444.06" y="53.19" width="0.52" height="24.81" fill="#c4c4c4"/>
<rect x="444.64" y="52.61" width="0.52" height="25.39" fill="#c4c4c4"/>
<rect x="445.21" y="52.02" width="0.52" height="25.98" fill="#c4c4c4"/>
<rect x="445.78" y="51.22" width="0.52" height="26.78" fill="#c4c4c4"/>
<rect x="446.35" y="49.87" width="0.52" height="28.13" fill="#c4c4c4"/>
<rect x="446.92" y="48.52" width="0.52" height="29.48" fill="#c4c4c4"/>
<rect x="447.49" y="47.17" width="0.52" height="30.83" fill="#c4c4c4"/>
<rect x="448.06" y="46.62" width="0.52" height="31.38" fill="#c4c4c4"/>
<rect x="448.63" y="46.32" width="0.52" height="31.68" fill="#c4c4c4"/>
<rect x="348.20" y="78.00" width="0.50" height="10.03" fill="#b0b0b0"/>
<rect x="349.91" y="78.00" width="0.50" height="5.26" fill="#b0b0b0"/>
<rect x="351.62" y="78.00" width="0.50" height="2.95" fill="#b0b0b0"/>
<rect x="353.34" y="78.00" width="0.50" height="2.05" fill="#b0b0b0"/>
<rect x="355.05" y="75.05" width="0.50" height="2.95" fill="#b0b0b0"/>
<rect x="356.76" y="74.95" width="0.50" height="3.05" fill="#b0b0b0"/>
<rect x="358.47" y="74.85" width="0.50" height="3.15" fill="#b0b0b0"/>
<rect x="360.18" y="74.75" width="0.50" height="3.25" fill="#b0b0b0"/>
<rect x="361.89" y="74.65" width="0.50" height="3.35" fill="#b0b0b0"/>
<rect x="363.61" y="74.55" width="0.50" height="3.45" fill="#b0b0b0"/>
<rect x="365.32" y="74.43" width="0.50" height="3.57" fill="#b0b0b0"/>
<rect x="367.03" y="74.32" width="0.50" height="3.68" fill="#b0b0b0"/>
<rect x="368.74" y="74.21" width="0.50" height="3.79" fill="#b0b0b0"/>
<rect x="370.45" y="74.10" width="0.50" height="3.90" fill="#b0b0b0"/>
<rect x="372.17" y="73.98" width="0.50" height="4.02" fill="#b0b0b0"/>
<rect x="373.88" y="73.87" width="0.50" height="4.13" fill="#b0b0b0"/>
<rect x="375.59" y="73.69" width="0.50" height="4.31" fill="#b0b0b0"/>
<rect x="377.30" y="73.18" width="0.50" height="4.82" fill="#b0b0b0"/>
<rect x="379.01" y="72.67" width="0.50" height="5.33" fill="#b0b0b0"/>
<rect x="380.73" y="72.15" width="0.50" height="5.85" fill="#b0b0b0"/>
<rect x="382.44" y="71.66" width="0.50" height="6.34" fill="#b0b0b0"/>
<rect x="384.15" y="71.54" width="0.50" height="6.46" fill="#b0b0b0"/>
<rect x="385.86" y="71.43" width="0.50" height="6.57" fill="#b0b0b0"/>
<rect x="387.57" y="71.31" width="0.50" height="6.69" fill="#b0b0b0"/>
<rect x="389.28" y="71.19" width="0.50" height="6.81" fill="#b0b0b0"/>
<rect x="391.00" y="71.08" width="0.50" height="6.92" fill="#b0b0b0"/>
<rect x="392.71" y="70.96" width="0.50" height="7.04" fill="#b0b0b0"/>
<rect x="394.42" y="70.80" width="0.50" height="7.20" fill="#b0b0b0"/>
<rect x="396.13" y="70.49" width="0.50" height="7.51" fill="#b0b0b0"/>
<rect x="397.84" y="70.19" width="0.50" height="7.81" fill="#b0b0b0"/>
<rect x="399.56" y="69.89" width="0.50" height="8.11" fill="#b0b0b0"/>
<rect x="401.27" y="69.59" width="0.50" height="8.41" fill="#b0b0b0"/>
<rect x="402.98" y="69.29" width="0.50" height="8.71" fill="#b0b0b0"/>
<rect x="404.69" y="68.98" width="0.50" height="9.02" fill="#b0b0b0"/>
<rect x="406.40" y="68.68" width="0.50" height="9.32" fill="#b0b0b0"/>
<rect x="408.12" y="68.08" width="0.50" height="9.92" fill="#b0b0b0"/>
<rect x="409.83" y="67.01" width="0.50" height="10.99" fill="#b0b0b0"/>
<rect x="411.54" y="65.94" width="0.50" height="12.06" fill="#b0b0b0"/>
<rect x="413.25" y="65.59" width="0.50" height="12.41" fill="#b0b0b0"/>
<rect x="414.96" y="65.30" width="0.50" height="12.70" fill="#b0b0b0"/>
<rect x="416.67" y="65.01" width="0.50" height="12.99" fill="#b0b0b0"/>
<rect x="418.39" y="64.72" width="0.50" height="13.28" fill="#b0b0b0"/>
<rect x="420.10" y="64.43" width="0.50" height="13.57" fill="#b0b0b0"/>
<rect x="421.81" y="63.76" width="0.50" height="14.24" fill="#b0b0b0"/>
<rect x="423.52" y="62.66" width="0.50" height="15.34" fill="#b0b0b0"/>
<rect x="425.23" y="61.61" width="0.50" height="16.39" fill="#b0b0b0"/>
<rect x="426.95" y="61.23" width="0.50" height="16.77" fill="#b0b0b0"/>
<rect x="428.66" y="60.85" width="0.50" height="17.15" fill="#b0b0b0"/>
<rect x="430.37" y="60.47" width="0.50" height="17.53" fill="#b0b0b0"/>
<rect x="432.08" y="60.09" width="0.50" height="17.91" fill="#b0b0b0"/>
<rect x="433.79" y="59.71" width="0.50" height="18.29" fill="#b0b0b0"/>
<rect x="435.51" y="59.07" width="0.50" height="18.93" fill="#b0b0b0"/>
<rect x="437.22" y="58.14" width="0.50" height="19.86" fill="#b0b0b0"/>
<rect x="438.93" y="57.21" width="0.50" height="20.79" fill="#b0b0b0"/>
<rect x="440.64" y="56.29" width="0.50" height="21.71" fill="#b0b0b0"/>
<rect x="442.35" y="54.95" width="0.50" height="23.05" fill="#b0b0b0"/>
<rect x="444.06" y="53.19" width="0.50" height="24.81" fill="#b0b0b0"/>
<rect x="445.78" y="51.22" width="0.50" height="26.78" fill="#b0b0b0"/>
<rect x="447.49" y="47.17" width="0.50" height="30.83" fill="#b0b0b0"/>
<line x1="347.40" y1="72.72" x2="449.60" y2="72.72" stroke="#2a2a2a" stroke-width="1.0" stroke-dasharray="2,1.25"/>
<line x1="347.40" y1="83.28" x2="449.60" y2="83.28" stroke="#2a2a2a" stroke-width="1.0" stroke-dasharray="2,1.25"/>
<rect x="347.40" y="25.20" width="102.20" height="105.60" fill="none" stroke="#1e1e1e" stroke-width="1.2"/>
<line x1="344.40" y1="25.20" x2="347.40" y2="25.20" stroke="#222" stroke-width="0.9"/>
<text x="341.90" y="27.90" font-size="7.7" text-anchor="end" fill="#1c1c1c">10</text>
<line x1="344.40" y1="35.76" x2="347.40" y2="35.76" stroke="#222" stroke-width="0.9"/>
<text x="341.90" y="38.46" font-size="7.7" text-anchor="end" fill="#1c1c1c">8</text>
<line x1="344.40" y1="46.32" x2="347.40" y2="46.32" stroke="#222" stroke-width="0.9"/>
<text x="341.90" y="49.02" font-size="7.7" text-anchor="end" fill="#1c1c1c">6</text>
<line x1="344.40" y1="56.88" x2="347.40" y2="56.88" stroke="#222" stroke-width="0.9"/>
<text x="341.90" y="59.58" font-size="7.7" text-anchor="end" fill="#1c1c1c">4</text>
<line x1="344.40" y1="67.44" x2="347.40" y2="67.44" stroke="#222" stroke-width="0.9"/>
<text x="341.90" y="70.14" font-size="7.7" text-anchor="end" fill="#1c1c1c">2</text>
<line x1="344.40" y1="78.00" x2="347.40" y2="78.00" stroke="#222" stroke-width="0.9"/>
<text x="341.90" y="80.70" font-size="7.7" text-anchor="end" fill="#1c1c1c">0</text>
<line x1="344.40" y1="88.56" x2="347.40" y2="88.56" stroke="#222" stroke-width="0.9"/>
<text x="341.90" y="91.26" font-size="7.7" text-anchor="end" fill="#1c1c1c">−2</text>
<line x1="344.40" y1="99.12" x2="347.40" y2="99.12" stroke="#222" stroke-width="0.9"/>
<text x="341.90" y="101.82" font-size="7.7" text-anchor="end" fill="#1c1c1c">−4</text>
<line x1="344.40" y1="109.68" x2="347.40" y2="109.68" stroke="#222" stroke-width="0.9"/>
<text x="341.90" y="112.38" font-size="7.7" text-anchor="end" fill="#1c1c1c">−6</text>
<line x1="344.40" y1="120.24" x2="347.40" y2="120.24" stroke="#222" stroke-width="0.9"/>
<text x="341.90" y="122.94" font-size="7.7" text-anchor="end" fill="#1c1c1c">−8</text>
<line x1="344.40" y1="130.80" x2="347.40" y2="130.80" stroke="#222" stroke-width="0.9"/>
<text x="341.90" y="133.50" font-size="7.7" text-anchor="end" fill="#1c1c1c">−10</text>
<text transform="translate(323.20,131.30) rotate(-90)" font-size="9.4" fill="#1c1c1c" textLength="106.00" lengthAdjust="spacingAndGlyphs">Log<tspan font-size="6.6" dy="2.2">2</tspan><tspan dy="-2.2"> IR change (ortho / pro)</tspan></text>
<text x="385.00" y="142.30" font-size="10.4" text-anchor="start" textLength="26.00" lengthAdjust="spacingAndGlyphs" fill="#1c1c1c">Introns</text>
<text x="350.90" y="45.30" font-size="7.0" text-anchor="start" textLength="31.30" lengthAdjust="spacingAndGlyphs" fill="#1c1c1c">IR steady</text>
<text x="350.90" y="53.90" font-size="7.0" text-anchor="start" textLength="32.70" lengthAdjust="spacingAndGlyphs" fill="#1c1c1c">26 introns</text>
<text x="442.20" y="35.70" font-size="7.0" text-anchor="end" textLength="17.30" lengthAdjust="spacingAndGlyphs" fill="#1c1c1c">IR up</text>
<text x="442.20" y="44.30" font-size="7.0" text-anchor="end" textLength="36.50" lengthAdjust="spacingAndGlyphs" fill="#1c1c1c">144 introns</text>
<text x="353.30" y="99.30" font-size="7.0" text-anchor="start" textLength="26.90" lengthAdjust="spacingAndGlyphs" fill="#1c1c1c">IR down</text>
<text x="353.30" y="108.20" font-size="7.0" text-anchor="start" textLength="28.30" lengthAdjust="spacingAndGlyphs" fill="#1c1c1c">7 introns</text>
<line x1="36.00" y1="187.00" x2="36.00" y2="199.60" stroke="#1e1e1e" stroke-width="1.1"/>
<line x1="35.45" y1="187.50" x2="205.20" y2="187.50" stroke="#1e1e1e" stroke-width="1.1"/>
<line x1="204.60" y1="187.00" x2="204.60" y2="210.00" stroke="#1e1e1e" stroke-width="1.1"/>
<line x1="36.00" y1="190.40" x2="152.30" y2="190.40" stroke="#1e1e1e" stroke-width="1.1"/>
<line x1="151.80" y1="189.90" x2="151.80" y2="205.80" stroke="#1e1e1e" stroke-width="1.1"/>
<line x1="36.00" y1="192.80" x2="98.30" y2="192.80" stroke="#1e1e1e" stroke-width="1.1"/>
<line x1="97.80" y1="192.30" x2="97.80" y2="199.50" stroke="#1e1e1e" stroke-width="1.1"/>
<text x="119.30" y="178.40" font-size="7.1" text-anchor="middle" textLength="36.00" lengthAdjust="spacingAndGlyphs" fill="#1c1c1c">Introns 254</text>
<text x="119.70" y="185.60" font-size="7.1" text-anchor="middle" textLength="35.00" lengthAdjust="spacingAndGlyphs" fill="#1c1c1c">Genes 178</text>
<ellipse cx="35.9" cy="222.2" rx="16.6" ry="17.6" fill="#a6cdec" stroke="#1f3147" stroke-width="1.1"/>
<circle cx="34.9" cy="224.2" r="10.5" fill="#c6b0f0"/>
<circle cx="34.9" cy="224.2" r="8.6" fill="#7a2aa6" stroke="#5e1d86" stroke-width="0.5"/>
<ellipse cx="97.7" cy="222.8" rx="15.0" ry="16.2" fill="#a6cdec" stroke="#1f3147" stroke-width="1.1"/>
<circle cx="99.9" cy="220.8" r="10.5" fill="#c6b0f0"/>
<circle cx="99.9" cy="220.8" r="8.6" fill="#7a2aa6" stroke="#5e1d86" stroke-width="0.5"/>
<ellipse cx="151.6" cy="223.0" rx="11.0" ry="11.6" fill="#a6cdec" stroke="#1f3147" stroke-width="1.1"/>
<circle cx="150.9" cy="224.0" r="8.4" fill="#c6b0f0"/>
<circle cx="150.9" cy="224.0" r="6.8" fill="#7a2aa6" stroke="#5e1d86" stroke-width="0.5"/>
<ellipse cx="204.2" cy="224.0" rx="8.7" ry="9.3" fill="#a6cdec" stroke="#1f3147" stroke-width="1.1"/>
<circle cx="205.9" cy="220.8" r="4.8" fill="#c6b0f0"/>
<circle cx="205.9" cy="220.8" r="3.6" fill="#7a2aa6" stroke="#5e1d86" stroke-width="0.5"/>
<text x="28.80" y="250.60" font-size="9.0" text-anchor="start" textLength="14.40" lengthAdjust="spacingAndGlyphs" fill="#1c1c1c">Pro</text>
<text x="86.90" y="250.60" font-size="9.0" text-anchor="start" textLength="20.90" lengthAdjust="spacingAndGlyphs" fill="#1c1c1c">Baso</text>
<text x="143.70" y="250.80" font-size="9.0" text-anchor="start" textLength="17.40" lengthAdjust="spacingAndGlyphs" fill="#1c1c1c">Poly</text>
<text x="192.10" y="250.80" font-size="9.0" text-anchor="start" textLength="23.30" lengthAdjust="spacingAndGlyphs" fill="#1c1c1c">Ortho</text>
<text x="75.80" y="270.20" font-size="7.1" text-anchor="start" textLength="21.90" lengthAdjust="spacingAndGlyphs" fill="#1c1c1c">Introns</text>
<path d="M102.80,259.6 L105.80,255.8 L108.80,259.6 L107.30,259.6 L107.30,265.9 L104.30,265.9 L104.30,259.6 Z" fill="#000"/>
<path d="M104.30,267.9 L107.30,267.9 L107.30,274.3 L108.80,274.3 L105.80,278.0 L102.80,274.3 L104.30,274.3 Z" fill="#000"/>
<text x="111.80" y="264.90" font-size="7.1" text-anchor="start" textLength="7.80" lengthAdjust="spacingAndGlyphs" fill="#1c1c1c">38</text>
<text x="111.80" y="273.30" font-size="7.1" text-anchor="start" textLength="3.30" lengthAdjust="spacingAndGlyphs" fill="#1c1c1c">0</text>
<text x="75.20" y="285.50" font-size="7.1" text-anchor="start" textLength="31.10" lengthAdjust="spacingAndGlyphs" fill="#1c1c1c">Genes 31</text>
<text x="126.90" y="270.20" font-size="7.1" text-anchor="start" textLength="21.90" lengthAdjust="spacingAndGlyphs" fill="#1c1c1c">Introns</text>
<path d="M153.90,259.6 L156.90,255.8 L159.90,259.6 L158.40,259.6 L158.40,265.9 L155.40,265.9 L155.40,259.6 Z" fill="#000"/>
<path d="M155.40,267.9 L158.40,267.9 L158.40,274.3 L159.90,274.3 L156.90,278.0 L153.90,274.3 L155.40,274.3 Z" fill="#000"/>
<text x="163.30" y="264.90" font-size="7.1" text-anchor="start" textLength="10.90" lengthAdjust="spacingAndGlyphs" fill="#1c1c1c">135</text>
<text x="163.30" y="273.30" font-size="7.1" text-anchor="start" textLength="3.60" lengthAdjust="spacingAndGlyphs" fill="#1c1c1c">5</text>
<text x="126.30" y="285.50" font-size="7.1" text-anchor="start" textLength="34.70" lengthAdjust="spacingAndGlyphs" fill="#1c1c1c">Genes 115</text>
<text x="181.90" y="270.20" font-size="7.1" text-anchor="start" textLength="21.90" lengthAdjust="spacingAndGlyphs" fill="#1c1c1c">Introns</text>
<path d="M208.90,259.6 L211.90,255.8 L214.90,259.6 L213.40,259.6 L213.40,265.9 L210.40,265.9 L210.40,259.6 Z" fill="#000"/>
<path d="M210.40,267.9 L213.40,267.9 L213.40,274.3 L214.90,274.3 L211.90,278.0 L208.90,274.3 L210.40,274.3 Z" fill="#000"/>
<text x="217.40" y="264.90" font-size="7.1" text-anchor="start" textLength="10.90" lengthAdjust="spacingAndGlyphs" fill="#1c1c1c">144</text>
<text x="217.40" y="273.30" font-size="7.1" text-anchor="start" textLength="3.60" lengthAdjust="spacingAndGlyphs" fill="#1c1c1c">7</text>
<text x="181.30" y="285.50" font-size="7.1" text-anchor="start" textLength="31.20" lengthAdjust="spacingAndGlyphs" fill="#1c1c1c">Genes 99</text>
<rect x="49.00" y="346.20" width="16.50" height="90.30" fill="#7b7b7b"/>
<text x="57.25" y="343.10" font-size="7.1" text-anchor="middle" fill="#1c1c1c">141</text>
<text x="57.25" y="446.50" font-size="7.4" text-anchor="middle" fill="#1c1c1c">1</text>
<rect x="65.50" y="425.61" width="16.50" height="10.89" fill="#7b7b7b"/>
<text x="73.75" y="422.60" font-size="7.1" text-anchor="middle" fill="#1c1c1c">17</text>
<text x="73.75" y="446.50" font-size="7.4" text-anchor="middle" fill="#1c1c1c">2</text>
<rect x="82.00" y="428.17" width="16.50" height="8.33" fill="#7b7b7b"/>
<text x="90.25" y="422.60" font-size="7.1" text-anchor="middle" fill="#1c1c1c">13</text>
<text x="90.25" y="446.50" font-size="7.4" text-anchor="middle" fill="#1c1c1c">3</text>
<rect x="98.50" y="435.86" width="16.50" height="0.64" fill="#7b7b7b"/>
<text x="106.75" y="422.60" font-size="7.1" text-anchor="middle" fill="#1c1c1c">1</text>
<text x="106.75" y="446.50" font-size="7.4" text-anchor="middle" fill="#1c1c1c">4</text>
<rect x="115.00" y="434.58" width="16.50" height="1.92" fill="#7b7b7b"/>
<text x="123.25" y="422.60" font-size="7.1" text-anchor="middle" fill="#1c1c1c">3</text>
<text x="123.25" y="446.50" font-size="7.4" text-anchor="middle" fill="#1c1c1c">5</text>
<rect x="131.50" y="435.86" width="16.50" height="0.64" fill="#7b7b7b"/>
<text x="139.75" y="422.60" font-size="7.1" text-anchor="middle" fill="#1c1c1c">1</text>
<text x="139.75" y="446.50" font-size="7.4" text-anchor="middle" fill="#1c1c1c">6</text>
<rect x="148.00" y="435.86" width="16.50" height="0.64" fill="#7b7b7b"/>
<text x="156.25" y="422.60" font-size="7.1" text-anchor="middle" fill="#1c1c1c">1</text>
<text x="156.25" y="446.50" font-size="7.4" text-anchor="middle" fill="#1c1c1c">7</text>
<rect x="164.50" y="435.86" width="16.50" height="0.64" fill="#7b7b7b"/>
<text x="172.75" y="422.60" font-size="7.1" text-anchor="middle" fill="#1c1c1c">1</text>
<text x="172.75" y="446.50" font-size="7.4" text-anchor="middle" fill="#1c1c1c">8</text>
<line x1="48.50" y1="319.80" x2="48.50" y2="437.00" stroke="#1e1e1e" stroke-width="1.1"/>
<line x1="46.00" y1="436.50" x2="181.60" y2="436.50" stroke="#1e1e1e" stroke-width="1.1"/>
<line x1="45.60" y1="436.50" x2="48.50" y2="436.50" stroke="#222" stroke-width="0.9"/>
<text x="42.50" y="439.50" font-size="7.2" text-anchor="end" fill="#1c1c1c">0.0</text>
<line x1="45.60" y1="425.10" x2="48.50" y2="425.10" stroke="#222" stroke-width="0.9"/>
<text x="42.50" y="428.10" font-size="7.2" text-anchor="end" fill="#1c1c1c">0.1</text>
<line x1="45.60" y1="413.70" x2="48.50" y2="413.70" stroke="#222" stroke-width="0.9"/>
<text x="42.50" y="416.70" font-size="7.2" text-anchor="end" fill="#1c1c1c">0.2</text>
<line x1="45.60" y1="402.30" x2="48.50" y2="402.30" stroke="#222" stroke-width="0.9"/>
<text x="42.50" y="405.30" font-size="7.2" text-anchor="end" fill="#1c1c1c">0.3</text>
<line x1="45.60" y1="390.90" x2="48.50" y2="390.90" stroke="#222" stroke-width="0.9"/>
<text x="42.50" y="393.90" font-size="7.2" text-anchor="end" fill="#1c1c1c">0.4</text>
<line x1="45.60" y1="379.50" x2="48.50" y2="379.50" stroke="#222" stroke-width="0.9"/>
<text x="42.50" y="382.50" font-size="7.2" text-anchor="end" fill="#1c1c1c">0.5</text>
<line x1="45.60" y1="368.10" x2="48.50" y2="368.10" stroke="#222" stroke-width="0.9"/>
<text x="42.50" y="371.10" font-size="7.2" text-anchor="end" fill="#1c1c1c">0.6</text>
<line x1="45.60" y1="356.70" x2="48.50" y2="356.70" stroke="#222" stroke-width="0.9"/>
<text x="42.50" y="359.70" font-size="7.2" text-anchor="end" fill="#1c1c1c">0.7</text>
<line x1="45.60" y1="345.30" x2="48.50" y2="345.30" stroke="#222" stroke-width="0.9"/>
<text x="42.50" y="348.30" font-size="7.2" text-anchor="end" fill="#1c1c1c">0.8</text>
<line x1="45.60" y1="333.90" x2="48.50" y2="333.90" stroke="#222" stroke-width="0.9"/>
<text x="42.50" y="336.90" font-size="7.2" text-anchor="end" fill="#1c1c1c">0.9</text>
<line x1="45.60" y1="322.50" x2="48.50" y2="322.50" stroke="#222" stroke-width="0.9"/>
<text x="42.50" y="325.50" font-size="7.2" text-anchor="end" fill="#1c1c1c">1.0</text>
<text transform="translate(25.9,412.0) rotate(-90)" font-size="9.8" fill="#1c1c1c" textLength="68.6" lengthAdjust="spacingAndGlyphs">Relative frequency</text>
<text x="48.60" y="459.50" font-size="9.4" text-anchor="start" textLength="134.00" lengthAdjust="spacingAndGlyphs" fill="#1c1c1c">Differentially retained introns / gene</text>
<defs><linearGradient id="hk" x1="0" x2="1" y1="0" y2="0"><stop offset="0" stop-color="#f20000"/><stop offset="0.13" stop-color="#ff2000"/><stop offset="0.27" stop-color="#ff6000"/><stop offset="0.42" stop-color="#ff9000"/><stop offset="0.55" stop-color="#ffb800"/><stop offset="0.67" stop-color="#ffe000"/><stop offset="0.77" stop-color="#ffff00"/><stop offset="0.84" stop-color="#ffff40"/><stop offset="0.91" stop-color="#ffffa0"/><stop offset="0.98" stop-color="#fffff0"/><stop offset="1" stop-color="#ffffff"/></linearGradient></defs>
<rect x="259.50" y="184.20" width="32.50" height="52.30" fill="url(#hk)"/>
<text x="262.70" y="181.00" font-size="7.0" text-anchor="start" textLength="26.80" lengthAdjust="spacingAndGlyphs" fill="#1c1c1c">Color Key</text>
<line x1="260.00" y1="236.90" x2="291.50" y2="236.90" stroke="#555" stroke-width="0.6"/>
<line x1="264.50" y1="236.90" x2="264.50" y2="239.50" stroke="#444" stroke-width="0.7"/>
<line x1="270.10" y1="236.90" x2="270.10" y2="239.50" stroke="#444" stroke-width="0.7"/>
<line x1="275.80" y1="236.90" x2="275.80" y2="239.50" stroke="#444" stroke-width="0.7"/>
<line x1="281.40" y1="236.90" x2="281.40" y2="239.50" stroke="#444" stroke-width="0.7"/>
<line x1="287.00" y1="236.90" x2="287.00" y2="239.50" stroke="#444" stroke-width="0.7"/>
<text x="264.50" y="246.70" font-size="5.6" text-anchor="middle" fill="#1c1c1c">−1</text>
<text x="276.00" y="246.70" font-size="5.6" text-anchor="middle" fill="#1c1c1c">0</text>
<text x="287.00" y="246.70" font-size="5.6" text-anchor="middle" fill="#1c1c1c">1</text>
<text x="258.30" y="254.40" font-size="6.7" text-anchor="start" textLength="37.70" lengthAdjust="spacingAndGlyphs" fill="#1c1c1c">Row Z−Score</text>
<text x="390.80" y="180.80" font-size="6.8" text-anchor="middle" textLength="23.50" lengthAdjust="spacingAndGlyphs" fill="#1c1c1c">IR Ratio</text>
<rect x="312.50" y="183.30" width="39.90" height="23.00" fill="#ff0000"/>
<rect x="312.50" y="184.79" width="39.90" height="2.10" fill="#ff0200"/>
<rect x="312.50" y="186.89" width="39.90" height="2.01" fill="#ff0b00"/>
<rect x="312.50" y="190.47" width="39.90" height="1.93" fill="#ff0000"/>
<rect x="312.50" y="192.40" width="39.90" height="1.08" fill="#ff0e00"/>
<rect x="312.50" y="193.48" width="39.90" height="1.80" fill="#ff0000"/>
<rect x="312.50" y="197.44" width="39.90" height="1.70" fill="#ff0000"/>
<rect x="312.50" y="199.14" width="39.90" height="1.98" fill="#ff0000"/>
<rect x="312.50" y="201.12" width="39.90" height="1.15" fill="#ff0000"/>
<rect x="312.50" y="202.27" width="39.90" height="1.91" fill="#ff0400"/>
<rect x="312.50" y="204.18" width="39.90" height="1.82" fill="#ff0600"/>
<rect x="312.50" y="206.00" width="39.90" height="2.30" fill="#ff1000"/>
<rect x="312.50" y="206.00" width="39.90" height="1.28" fill="#ff0400"/>
<rect x="312.50" y="207.28" width="39.90" height="0.72" fill="#ff1300"/>
<rect x="312.50" y="208.00" width="39.90" height="5.30" fill="#ff0000"/>
<rect x="312.50" y="210.19" width="39.90" height="1.82" fill="#ff0000"/>
<rect x="312.50" y="212.01" width="39.90" height="0.99" fill="#ff0400"/>
<rect x="312.50" y="213.00" width="39.90" height="10.30" fill="#ff2000"/>
<rect x="312.50" y="213.00" width="39.90" height="1.90" fill="#ff2d00"/>
<rect x="312.50" y="214.90" width="39.90" height="1.28" fill="#ff1200"/>
<rect x="312.50" y="216.17" width="39.90" height="2.00" fill="#ff1800"/>
<rect x="312.50" y="218.18" width="39.90" height="2.11" fill="#ff1e00"/>
<rect x="312.50" y="220.28" width="39.90" height="2.17" fill="#ff1400"/>
<rect x="312.50" y="222.46" width="39.90" height="0.54" fill="#ff2700"/>
<rect x="312.50" y="223.00" width="39.90" height="11.80" fill="#ff0a00"/>
<rect x="312.50" y="223.00" width="39.90" height="1.25" fill="#ff0600"/>
<rect x="312.50" y="224.25" width="39.90" height="0.92" fill="#ff0000"/>
<rect x="312.50" y="226.25" width="39.90" height="0.91" fill="#ff0b00"/>
<rect x="312.50" y="228.29" width="39.90" height="1.48" fill="#ff1300"/>
<rect x="312.50" y="229.77" width="39.90" height="1.90" fill="#ff0800"/>
<rect x="312.50" y="231.67" width="39.90" height="1.05" fill="#ff0200"/>
<rect x="312.50" y="234.50" width="39.90" height="9.80" fill="#ff1400"/>
<rect x="312.50" y="234.50" width="39.90" height="2.20" fill="#ff0b00"/>
<rect x="312.50" y="238.11" width="39.90" height="1.73" fill="#ff0a00"/>
<rect x="312.50" y="239.84" width="39.90" height="1.18" fill="#ff1e00"/>
<rect x="312.50" y="242.71" width="39.90" height="1.29" fill="#ff0c00"/>
<rect x="312.50" y="244.00" width="39.90" height="6.30" fill="#ff1800"/>
<rect x="312.50" y="244.00" width="39.90" height="1.66" fill="#ff1d00"/>
<rect x="312.50" y="248.10" width="39.90" height="1.90" fill="#ff1600"/>
<rect x="312.50" y="250.00" width="39.90" height="3.30" fill="#ff2800"/>
<rect x="312.50" y="250.00" width="39.90" height="1.14" fill="#ff2100"/>
<rect x="312.50" y="251.14" width="39.90" height="1.86" fill="#ff2000"/>
<rect x="312.50" y="253.00" width="39.90" height="25.90" fill="#ff1200"/>
<rect x="312.50" y="255.73" width="39.90" height="1.40" fill="#ff0600"/>
<rect x="312.50" y="257.13" width="39.90" height="1.45" fill="#ff0500"/>
<rect x="312.50" y="258.58" width="39.90" height="1.57" fill="#ff1b00"/>
<rect x="312.50" y="260.14" width="39.90" height="1.82" fill="#ff1e00"/>
<rect x="312.50" y="261.96" width="39.90" height="2.08" fill="#ff1400"/>
<rect x="312.50" y="265.17" width="39.90" height="0.99" fill="#ff1500"/>
<rect x="312.50" y="267.90" width="39.90" height="1.00" fill="#ff0a00"/>
<rect x="312.50" y="268.90" width="39.90" height="1.87" fill="#ff1100"/>
<rect x="312.50" y="270.77" width="39.90" height="1.48" fill="#ff0900"/>
<rect x="312.50" y="272.25" width="39.90" height="1.27" fill="#ff0800"/>
<rect x="312.50" y="273.52" width="39.90" height="1.02" fill="#ff1200"/>
<rect x="312.50" y="278.60" width="39.90" height="26.70" fill="#ff0800"/>
<rect x="312.50" y="278.60" width="39.90" height="1.08" fill="#ff0000"/>
<rect x="312.50" y="279.68" width="39.90" height="1.52" fill="#ff0300"/>
<rect x="312.50" y="281.20" width="39.90" height="2.15" fill="#ff0e00"/>
<rect x="312.50" y="283.35" width="39.90" height="1.00" fill="#ff0300"/>
<rect x="312.50" y="285.66" width="39.90" height="1.00" fill="#ff1100"/>
<rect x="312.50" y="287.62" width="39.90" height="1.86" fill="#ff0400"/>
<rect x="312.50" y="296.37" width="39.90" height="1.71" fill="#ff0c00"/>
<rect x="312.50" y="298.08" width="39.90" height="0.92" fill="#ff0000"/>
<rect x="312.50" y="304.18" width="39.90" height="0.82" fill="#ff1400"/>
<rect x="312.50" y="305.00" width="39.90" height="3.30" fill="#ff1000"/>
<rect x="312.50" y="305.00" width="39.90" height="1.60" fill="#ff1200"/>
<rect x="312.50" y="308.00" width="39.90" height="6.30" fill="#ff2800"/>
<rect x="312.50" y="308.00" width="39.90" height="1.53" fill="#ff3000"/>
<rect x="312.50" y="310.57" width="39.90" height="1.76" fill="#ff3600"/>
<rect x="312.50" y="312.33" width="39.90" height="0.91" fill="#ff2f00"/>
<rect x="312.50" y="313.24" width="39.90" height="0.76" fill="#ff3200"/>
<rect x="312.50" y="314.00" width="39.90" height="12.80" fill="#ff3000"/>
<rect x="312.50" y="318.88" width="39.90" height="1.16" fill="#ff3b00"/>
<rect x="312.50" y="320.04" width="39.90" height="1.88" fill="#ff2800"/>
<rect x="312.50" y="323.32" width="39.90" height="1.31" fill="#ff3100"/>
<rect x="312.50" y="325.98" width="39.90" height="0.52" fill="#ff2a00"/>
<rect x="312.50" y="326.50" width="39.90" height="12.80" fill="#ff4000"/>
<rect x="312.50" y="326.50" width="39.90" height="1.97" fill="#ff4100"/>
<rect x="312.50" y="328.47" width="39.90" height="1.26" fill="#ff3f00"/>
<rect x="312.50" y="329.73" width="39.90" height="1.40" fill="#ff4700"/>
<rect x="312.50" y="332.43" width="39.90" height="2.18" fill="#ff3400"/>
<rect x="312.50" y="334.61" width="39.90" height="1.98" fill="#ff4500"/>
<rect x="312.50" y="337.54" width="39.90" height="1.46" fill="#ff4b00"/>
<rect x="312.50" y="339.00" width="39.90" height="10.90" fill="#ff4800"/>
<rect x="312.50" y="340.63" width="39.90" height="1.43" fill="#ff5200"/>
<rect x="312.50" y="342.06" width="39.90" height="1.98" fill="#ff3e00"/>
<rect x="312.50" y="345.97" width="39.90" height="1.05" fill="#ff4b00"/>
<rect x="312.50" y="349.60" width="39.90" height="8.70" fill="#ff3800"/>
<rect x="312.50" y="349.60" width="39.90" height="1.16" fill="#ff2f00"/>
<rect x="312.50" y="352.59" width="39.90" height="1.60" fill="#ff3100"/>
<rect x="312.50" y="354.18" width="39.90" height="1.25" fill="#ff4000"/>
<rect x="312.50" y="355.44" width="39.90" height="2.13" fill="#ff4200"/>
<rect x="312.50" y="358.00" width="39.90" height="3.10" fill="#ff6000"/>
<rect x="312.50" y="359.11" width="39.90" height="1.69" fill="#ff5f00"/>
<rect x="312.50" y="360.80" width="39.90" height="7.00" fill="#ffffc0"/>
<rect x="312.50" y="362.91" width="39.90" height="1.07" fill="#ffffc6"/>
<rect x="312.50" y="363.98" width="39.90" height="2.05" fill="#ffffc3"/>
<rect x="312.50" y="367.50" width="39.90" height="1.60" fill="#ffff90"/>
<rect x="312.50" y="368.80" width="39.90" height="17.50" fill="#ff3000"/>
<rect x="312.50" y="373.43" width="39.90" height="1.83" fill="#ff3e00"/>
<rect x="312.50" y="375.27" width="39.90" height="1.41" fill="#ff2b00"/>
<rect x="312.50" y="379.59" width="39.90" height="2.01" fill="#ff2400"/>
<rect x="312.50" y="381.60" width="39.90" height="0.95" fill="#ff2f00"/>
<rect x="312.50" y="382.55" width="39.90" height="1.90" fill="#ff2200"/>
<rect x="312.50" y="386.00" width="39.90" height="7.30" fill="#ff4800"/>
<rect x="312.50" y="386.00" width="39.90" height="1.46" fill="#ff4b00"/>
<rect x="312.50" y="388.79" width="39.90" height="1.08" fill="#ff4a00"/>
<rect x="312.50" y="389.88" width="39.90" height="2.07" fill="#ff4f00"/>
<rect x="312.50" y="393.00" width="39.90" height="10.30" fill="#ff3000"/>
<rect x="312.50" y="394.54" width="39.90" height="1.01" fill="#ff3200"/>
<rect x="312.50" y="397.18" width="39.90" height="1.63" fill="#ff3200"/>
<rect x="312.50" y="400.81" width="39.90" height="1.31" fill="#ff3d00"/>
<rect x="312.50" y="403.00" width="39.90" height="9.30" fill="#ff5000"/>
<rect x="312.50" y="403.00" width="39.90" height="1.30" fill="#ff5300"/>
<rect x="312.50" y="405.88" width="39.90" height="1.16" fill="#ff5200"/>
<rect x="312.50" y="407.04" width="39.90" height="0.91" fill="#ff5300"/>
<rect x="312.50" y="407.94" width="39.90" height="2.16" fill="#ff4e00"/>
<rect x="312.50" y="412.00" width="39.90" height="15.30" fill="#ff6000"/>
<rect x="312.50" y="412.00" width="39.90" height="1.06" fill="#ff5700"/>
<rect x="312.50" y="413.06" width="39.90" height="0.99" fill="#ff5f00"/>
<rect x="312.50" y="416.14" width="39.90" height="1.43" fill="#ff6100"/>
<rect x="312.50" y="417.57" width="39.90" height="1.07" fill="#ff6c00"/>
<rect x="312.50" y="420.75" width="39.90" height="1.58" fill="#ff5f00"/>
<rect x="312.50" y="425.10" width="39.90" height="0.93" fill="#ff5900"/>
<rect x="312.50" y="426.03" width="39.90" height="0.92" fill="#ff6900"/>
<rect x="352.10" y="183.30" width="39.90" height="1.50" fill="#ffd000"/>
<rect x="352.10" y="184.50" width="39.90" height="3.40" fill="#ffb000"/>
<rect x="352.10" y="185.54" width="39.90" height="1.06" fill="#ffaa00"/>
<rect x="352.10" y="187.60" width="39.90" height="4.20" fill="#ff9c00"/>
<rect x="352.10" y="187.60" width="39.90" height="2.04" fill="#ffa200"/>
<rect x="352.10" y="189.64" width="39.90" height="1.44" fill="#ff9300"/>
<rect x="352.10" y="191.50" width="39.90" height="3.30" fill="#ffb400"/>
<rect x="352.10" y="193.10" width="39.90" height="1.40" fill="#ffac00"/>
<rect x="352.10" y="194.50" width="39.90" height="4.20" fill="#ffc000"/>
<rect x="352.10" y="196.51" width="39.90" height="1.89" fill="#ffc900"/>
<rect x="352.10" y="198.40" width="39.90" height="4.90" fill="#ff9a00"/>
<rect x="352.10" y="198.40" width="39.90" height="1.72" fill="#ff9100"/>
<rect x="352.10" y="200.12" width="39.90" height="1.31" fill="#ff9200"/>
<rect x="352.10" y="203.00" width="39.90" height="5.70" fill="#ff8a00"/>
<rect x="352.10" y="203.00" width="39.90" height="2.05" fill="#ff8300"/>
<rect x="352.10" y="205.05" width="39.90" height="1.07" fill="#ff8800"/>
<rect x="352.10" y="208.40" width="39.90" height="4.90" fill="#ffa800"/>
<rect x="352.10" y="208.40" width="39.90" height="1.06" fill="#ffaf00"/>
<rect x="352.10" y="209.46" width="39.90" height="1.94" fill="#ffac00"/>
<rect x="352.10" y="213.00" width="39.90" height="4.90" fill="#ff8800"/>
<rect x="352.10" y="213.00" width="39.90" height="2.16" fill="#ff8a00"/>
<rect x="352.10" y="215.16" width="39.90" height="1.73" fill="#ff8f00"/>
<rect x="352.10" y="217.60" width="39.90" height="4.20" fill="#ff7000"/>
<rect x="352.10" y="217.60" width="39.90" height="1.53" fill="#ff7a00"/>
<rect x="352.10" y="219.13" width="39.90" height="1.62" fill="#ff7400"/>
<rect x="352.10" y="220.74" width="39.90" height="0.76" fill="#ff6500"/>
<rect x="352.10" y="221.50" width="39.90" height="4.80" fill="#ffa000"/>
<rect x="352.10" y="224.85" width="39.90" height="1.02" fill="#ffa700"/>
<rect x="352.10" y="226.00" width="39.90" height="3.30" fill="#ffb800"/>
<rect x="352.10" y="227.50" width="39.90" height="1.32" fill="#ffba00"/>
<rect x="352.10" y="229.00" width="39.90" height="5.10" fill="#ff8a00"/>
<rect x="352.10" y="229.00" width="39.90" height="1.36" fill="#ff8700"/>
<rect x="352.10" y="231.28" width="39.90" height="2.00" fill="#ff8a00"/>
<rect x="352.10" y="233.28" width="39.90" height="0.52" fill="#ff8200"/>
<rect x="352.10" y="233.80" width="39.90" height="2.50" fill="#ffc800"/>
<rect x="352.10" y="233.80" width="39.90" height="1.69" fill="#ffd300"/>
<rect x="352.10" y="236.00" width="39.90" height="8.30" fill="#ffff00"/>
<rect x="352.10" y="242.94" width="39.90" height="1.06" fill="#fff400"/>
<rect x="352.10" y="244.00" width="39.90" height="8.80" fill="#ffe800"/>
<rect x="352.10" y="245.87" width="39.90" height="1.96" fill="#fff600"/>
<rect x="352.10" y="247.83" width="39.90" height="1.33" fill="#ffe500"/>
<rect x="352.10" y="252.50" width="39.90" height="5.60" fill="#ff9400"/>
<rect x="352.10" y="252.50" width="39.90" height="0.99" fill="#ff9500"/>
<rect x="352.10" y="256.71" width="39.90" height="0.96" fill="#ff9b00"/>
<rect x="352.10" y="257.80" width="39.90" height="6.50" fill="#ff8800"/>
<rect x="352.10" y="257.80" width="39.90" height="1.29" fill="#ff8600"/>
<rect x="352.10" y="259.09" width="39.90" height="1.64" fill="#ff8600"/>
<rect x="352.10" y="260.73" width="39.90" height="1.57" fill="#ff8000"/>
<rect x="352.10" y="264.00" width="39.90" height="6.30" fill="#ff9c00"/>
<rect x="352.10" y="264.00" width="39.90" height="2.17" fill="#ffa100"/>
<rect x="352.10" y="266.17" width="39.90" height="1.04" fill="#ff9c00"/>
<rect x="352.10" y="267.21" width="39.90" height="1.42" fill="#ff9400"/>
<rect x="352.10" y="268.64" width="39.90" height="1.36" fill="#ff9600"/>
<rect x="352.10" y="270.00" width="39.90" height="7.30" fill="#ff8000"/>
<rect x="352.10" y="271.23" width="39.90" height="1.62" fill="#ff8200"/>
<rect x="352.10" y="277.00" width="39.90" height="5.80" fill="#ffa800"/>
<rect x="352.10" y="277.00" width="39.90" height="1.89" fill="#ff9f00"/>
<rect x="352.10" y="280.29" width="39.90" height="2.01" fill="#ffad00"/>
<rect x="352.10" y="282.50" width="39.90" height="7.80" fill="#ffb800"/>
<rect x="352.10" y="283.48" width="39.90" height="1.45" fill="#ffbd00"/>
<rect x="352.10" y="284.92" width="39.90" height="1.31" fill="#ffb900"/>
<rect x="352.10" y="289.25" width="39.90" height="0.75" fill="#ffb100"/>
<rect x="352.10" y="290.00" width="39.90" height="6.60" fill="#ffc000"/>
<rect x="352.10" y="293.09" width="39.90" height="0.97" fill="#ffbe00"/>
<rect x="352.10" y="295.03" width="39.90" height="1.27" fill="#ffce00"/>
<rect x="352.10" y="296.30" width="39.90" height="10.50" fill="#ffb000"/>
<rect x="352.10" y="298.72" width="39.90" height="0.96" fill="#ffbb00"/>
<rect x="352.10" y="299.68" width="39.90" height="1.84" fill="#ffbc00"/>
<rect x="352.10" y="302.73" width="39.90" height="0.97" fill="#ffa500"/>
<rect x="352.10" y="303.70" width="39.90" height="1.16" fill="#ffb200"/>
<rect x="352.10" y="304.86" width="39.90" height="1.10" fill="#ffa600"/>
<rect x="352.10" y="305.97" width="39.90" height="0.53" fill="#ffaa00"/>
<rect x="352.10" y="306.50" width="39.90" height="5.30" fill="#fff000"/>
<rect x="352.10" y="309.60" width="39.90" height="1.90" fill="#ffeb00"/>
<rect x="352.10" y="311.50" width="39.90" height="1.80" fill="#ffc800"/>
<rect x="352.10" y="311.50" width="39.90" height="1.50" fill="#ffbd00"/>
<rect x="352.10" y="313.00" width="39.90" height="6.30" fill="#ffee00"/>
<rect x="352.10" y="313.00" width="39.90" height="1.55" fill="#fff000"/>
<rect x="352.10" y="314.55" width="39.90" height="1.71" fill="#ffe800"/>
<rect x="352.10" y="317.96" width="39.90" height="1.04" fill="#ffe800"/>
<rect x="352.10" y="319.00" width="39.90" height="9.30" fill="#ff9800"/>
<rect x="352.10" y="319.00" width="39.90" height="1.88" fill="#ff9100"/>
<rect x="352.10" y="323.59" width="39.90" height="1.72" fill="#ff9200"/>
<rect x="352.10" y="326.76" width="39.90" height="1.03" fill="#ff8c00"/>
<rect x="352.10" y="328.00" width="39.90" height="8.10" fill="#ff9000"/>
<rect x="352.10" y="329.88" width="39.90" height="1.11" fill="#ff8d00"/>
<rect x="352.10" y="330.99" width="39.90" height="1.53" fill="#ff8c00"/>
<rect x="352.10" y="333.87" width="39.90" height="1.93" fill="#ff8500"/>
<rect x="352.10" y="335.80" width="39.90" height="9.50" fill="#ff8800"/>
<rect x="352.10" y="340.75" width="39.90" height="1.41" fill="#ff7e00"/>
<rect x="352.10" y="343.91" width="39.90" height="1.09" fill="#ff9100"/>
<rect x="352.10" y="345.00" width="39.90" height="14.50" fill="#ff9000"/>
<rect x="352.10" y="345.00" width="39.90" height="1.97" fill="#ff9600"/>
<rect x="352.10" y="346.97" width="39.90" height="1.38" fill="#ff9e00"/>
<rect x="352.10" y="348.35" width="39.90" height="1.32" fill="#ff8f00"/>
<rect x="352.10" y="349.68" width="39.90" height="1.63" fill="#ff9700"/>
<rect x="352.10" y="352.81" width="39.90" height="0.91" fill="#ff9700"/>
<rect x="352.10" y="359.20" width="39.90" height="3.40" fill="#ffc000"/>
<rect x="352.10" y="360.53" width="39.90" height="1.32" fill="#ffc500"/>
<rect x="352.10" y="362.30" width="39.90" height="7.00" fill="#ff9400"/>
<rect x="352.10" y="364.39" width="39.90" height="2.09" fill="#ff9f00"/>
<rect x="352.10" y="366.48" width="39.90" height="2.19" fill="#ff8d00"/>
<rect x="352.10" y="369.00" width="39.90" height="3.30" fill="#ffffc0"/>
<rect x="352.10" y="370.42" width="39.90" height="1.58" fill="#ffffbd"/>
<rect x="352.10" y="372.00" width="39.90" height="14.30" fill="#ffb000"/>
<rect x="352.10" y="372.00" width="39.90" height="1.98" fill="#ffb700"/>
<rect x="352.10" y="373.98" width="39.90" height="1.41" fill="#ffa800"/>
<rect x="352.10" y="375.39" width="39.90" height="1.86" fill="#ffae00"/>
<rect x="352.10" y="378.85" width="39.90" height="1.63" fill="#ffba00"/>
<rect x="352.10" y="381.98" width="39.90" height="1.96" fill="#ffa300"/>
<rect x="352.10" y="386.00" width="39.90" height="15.70" fill="#ff8c00"/>
<rect x="352.10" y="388.16" width="39.90" height="1.95" fill="#ff8f00"/>
<rect x="352.10" y="390.10" width="39.90" height="1.30" fill="#ff8800"/>
<rect x="352.10" y="392.41" width="39.90" height="2.07" fill="#ff9200"/>
<rect x="352.10" y="394.47" width="39.90" height="1.75" fill="#ff9800"/>
<rect x="352.10" y="396.22" width="39.90" height="1.74" fill="#ff8500"/>
<rect x="352.10" y="399.50" width="39.90" height="1.34" fill="#ff8900"/>
<rect x="352.10" y="401.40" width="39.90" height="3.40" fill="#ffd000"/>
<rect x="352.10" y="401.40" width="39.90" height="1.77" fill="#ffd300"/>
<rect x="352.10" y="403.17" width="39.90" height="1.33" fill="#ffd500"/>
<rect x="352.10" y="404.50" width="39.90" height="7.80" fill="#ffa000"/>
<rect x="352.10" y="404.50" width="39.90" height="2.09" fill="#ffac00"/>
<rect x="352.10" y="406.59" width="39.90" height="2.18" fill="#ff9200"/>
<rect x="352.10" y="412.00" width="39.90" height="15.30" fill="#ff8000"/>
<rect x="352.10" y="412.00" width="39.90" height="1.73" fill="#ff8800"/>
<rect x="352.10" y="413.73" width="39.90" height="0.91" fill="#ff7f00"/>
<rect x="352.10" y="414.65" width="39.90" height="2.09" fill="#ff7700"/>
<rect x="352.10" y="416.74" width="39.90" height="2.19" fill="#ff7700"/>
<rect x="352.10" y="418.92" width="39.90" height="1.32" fill="#ff8200"/>
<rect x="352.10" y="421.52" width="39.90" height="0.98" fill="#ff7500"/>
<rect x="352.10" y="422.50" width="39.90" height="1.29" fill="#ff7700"/>
<rect x="352.10" y="425.88" width="39.90" height="0.92" fill="#ff8b00"/>
<rect x="391.70" y="183.30" width="40.20" height="2.30" fill="#ffe800"/>
<rect x="391.70" y="183.30" width="40.20" height="0.95" fill="#ffdf00"/>
<rect x="391.70" y="185.30" width="40.20" height="5.70" fill="#fff000"/>
<rect x="391.70" y="185.30" width="40.20" height="1.68" fill="#fff200"/>
<rect x="391.70" y="186.98" width="40.20" height="1.19" fill="#ffea00"/>
<rect x="391.70" y="190.70" width="40.20" height="12.60" fill="#ffff10"/>
<rect x="391.70" y="192.82" width="40.20" height="2.01" fill="#fffd10"/>
<rect x="391.70" y="194.83" width="40.20" height="2.09" fill="#ffff10"/>
<rect x="391.70" y="196.92" width="40.20" height="1.90" fill="#ffff10"/>
<rect x="391.70" y="198.83" width="40.20" height="1.19" fill="#fff510"/>
<rect x="391.70" y="200.01" width="40.20" height="1.94" fill="#ffff10"/>
<rect x="391.70" y="203.00" width="40.20" height="8.80" fill="#ffff80"/>
<rect x="391.70" y="203.00" width="40.20" height="1.92" fill="#ffff79"/>
<rect x="391.70" y="206.98" width="40.20" height="2.08" fill="#ffff79"/>
<rect x="391.70" y="210.89" width="40.20" height="0.61" fill="#ffff7c"/>
<rect x="391.70" y="211.50" width="40.20" height="3.30" fill="#ffff20"/>
<rect x="391.70" y="212.59" width="40.20" height="1.91" fill="#ffff20"/>
<rect x="391.70" y="214.50" width="40.20" height="6.50" fill="#ffff80"/>
<rect x="391.70" y="214.50" width="40.20" height="2.19" fill="#ffff83"/>
<rect x="391.70" y="217.66" width="40.20" height="1.13" fill="#ffff8d"/>
<rect x="391.70" y="218.79" width="40.20" height="1.09" fill="#ffff7d"/>
<rect x="391.70" y="220.70" width="40.20" height="5.60" fill="#ffff10"/>
<rect x="391.70" y="220.70" width="40.20" height="1.03" fill="#ffff10"/>
<rect x="391.70" y="222.73" width="40.20" height="1.61" fill="#fff110"/>
<rect x="391.70" y="224.34" width="40.20" height="1.66" fill="#ffff10"/>
<rect x="391.70" y="226.00" width="40.20" height="9.60" fill="#ffff70"/>
<rect x="391.70" y="227.02" width="40.20" height="1.17" fill="#ffff72"/>
<rect x="391.70" y="229.73" width="40.20" height="2.15" fill="#ffff6e"/>
<rect x="391.70" y="231.88" width="40.20" height="1.00" fill="#ffff70"/>
<rect x="391.70" y="232.88" width="40.20" height="1.77" fill="#ffff64"/>
<rect x="391.70" y="234.65" width="40.20" height="0.65" fill="#ffff6e"/>
<rect x="391.70" y="235.30" width="40.20" height="4.00" fill="#ffc000"/>
<rect x="391.70" y="237.08" width="40.20" height="1.92" fill="#ffc000"/>
<rect x="391.70" y="239.00" width="40.20" height="4.00" fill="#ffb400"/>
<rect x="391.70" y="239.00" width="40.20" height="0.92" fill="#ffbc00"/>
<rect x="391.70" y="239.92" width="40.20" height="1.52" fill="#ffa900"/>
<rect x="391.70" y="241.43" width="40.20" height="1.27" fill="#ffc100"/>
<rect x="391.70" y="242.70" width="40.20" height="9.30" fill="#ffee00"/>
<rect x="391.70" y="242.70" width="40.20" height="1.94" fill="#fff300"/>
<rect x="391.70" y="250.00" width="40.20" height="1.62" fill="#ffe600"/>
<rect x="391.70" y="251.70" width="40.20" height="11.10" fill="#ffd400"/>
<rect x="391.70" y="257.15" width="40.20" height="1.02" fill="#ffc900"/>
<rect x="391.70" y="259.24" width="40.20" height="1.13" fill="#ffc700"/>
<rect x="391.70" y="262.50" width="40.20" height="4.10" fill="#ffb000"/>
<rect x="391.70" y="262.50" width="40.20" height="1.02" fill="#ffa700"/>
<rect x="391.70" y="263.52" width="40.20" height="2.18" fill="#ffba00"/>
<rect x="391.70" y="266.30" width="40.20" height="7.20" fill="#ffc800"/>
<rect x="391.70" y="266.30" width="40.20" height="1.46" fill="#ffce00"/>
<rect x="391.70" y="267.76" width="40.20" height="1.17" fill="#ffd000"/>
<rect x="391.70" y="268.92" width="40.20" height="1.40" fill="#ffc700"/>
<rect x="391.70" y="272.03" width="40.20" height="1.17" fill="#ffd300"/>
<rect x="391.70" y="273.20" width="40.20" height="2.60" fill="#ff9000"/>
<rect x="391.70" y="275.50" width="40.20" height="1.80" fill="#ff7000"/>
<rect x="391.70" y="275.50" width="40.20" height="1.50" fill="#ff6c00"/>
<rect x="391.70" y="277.00" width="40.20" height="1.90" fill="#ff9000"/>
<rect x="391.70" y="277.00" width="40.20" height="1.15" fill="#ff9000"/>
<rect x="391.70" y="278.60" width="40.20" height="11.70" fill="#ffd000"/>
<rect x="391.70" y="278.60" width="40.20" height="1.04" fill="#ffd200"/>
<rect x="391.70" y="279.64" width="40.20" height="1.33" fill="#ffc500"/>
<rect x="391.70" y="280.97" width="40.20" height="1.69" fill="#ffda00"/>
<rect x="391.70" y="282.67" width="40.20" height="1.60" fill="#ffc900"/>
<rect x="391.70" y="284.27" width="40.20" height="1.36" fill="#ffc600"/>
<rect x="391.70" y="285.62" width="40.20" height="1.65" fill="#ffd200"/>
<rect x="391.70" y="290.00" width="40.20" height="6.60" fill="#ffa800"/>
<rect x="391.70" y="290.93" width="40.20" height="1.91" fill="#ffa900"/>
<rect x="391.70" y="296.30" width="40.20" height="9.00" fill="#ffa000"/>
<rect x="391.70" y="296.30" width="40.20" height="1.37" fill="#ff9500"/>
<rect x="391.70" y="300.37" width="40.20" height="1.61" fill="#ff9a00"/>
<rect x="391.70" y="303.10" width="40.20" height="1.90" fill="#ff9600"/>
<rect x="391.70" y="305.00" width="40.20" height="3.30" fill="#ff9800"/>
<rect x="391.70" y="308.00" width="40.20" height="6.50" fill="#ff8800"/>
<rect x="391.70" y="308.00" width="40.20" height="1.98" fill="#ff8b00"/>
<rect x="391.70" y="309.98" width="40.20" height="1.95" fill="#ff8600"/>
<rect x="391.70" y="314.20" width="40.20" height="14.10" fill="#ff8c00"/>
<rect x="391.70" y="315.50" width="40.20" height="1.86" fill="#ff9000"/>
<rect x="391.70" y="319.09" width="40.20" height="1.11" fill="#ff7f00"/>
<rect x="391.70" y="320.20" width="40.20" height="1.09" fill="#ff9000"/>
<rect x="391.70" y="321.28" width="40.20" height="1.43" fill="#ff8200"/>
<rect x="391.70" y="327.32" width="40.20" height="0.68" fill="#ff8b00"/>
<rect x="391.70" y="328.00" width="40.20" height="4.30" fill="#ff7000"/>
<rect x="391.70" y="330.07" width="40.20" height="1.63" fill="#ff6b00"/>
<rect x="391.70" y="332.00" width="40.20" height="8.70" fill="#ff8800"/>
<rect x="391.70" y="335.52" width="40.20" height="1.43" fill="#ff8c00"/>
<rect x="391.70" y="338.00" width="40.20" height="1.33" fill="#ff8700"/>
<rect x="391.70" y="339.33" width="40.20" height="1.07" fill="#ff7b00"/>
<rect x="391.70" y="340.40" width="40.20" height="4.90" fill="#ff9400"/>
<rect x="391.70" y="341.68" width="40.20" height="1.46" fill="#ff9000"/>
<rect x="391.70" y="343.15" width="40.20" height="1.85" fill="#ff9800"/>
<rect x="391.70" y="345.00" width="40.20" height="13.30" fill="#ff9c00"/>
<rect x="391.70" y="345.00" width="40.20" height="2.04" fill="#ffa900"/>
<rect x="391.70" y="347.04" width="40.20" height="1.48" fill="#ff9a00"/>
<rect x="391.70" y="348.52" width="40.20" height="2.16" fill="#ff9100"/>
<rect x="391.70" y="350.69" width="40.20" height="1.58" fill="#ff9700"/>
<rect x="391.70" y="358.00" width="40.20" height="1.80" fill="#ffc000"/>
<rect x="391.70" y="358.00" width="40.20" height="1.38" fill="#ffc400"/>
<rect x="391.70" y="359.50" width="40.20" height="5.30" fill="#ff8000"/>
<rect x="391.70" y="359.50" width="40.20" height="1.95" fill="#ff8900"/>
<rect x="391.70" y="361.45" width="40.20" height="1.45" fill="#ff7400"/>
<rect x="391.70" y="363.92" width="40.20" height="0.58" fill="#ff8000"/>
<rect x="391.70" y="364.50" width="40.20" height="4.80" fill="#ff2000"/>
<rect x="391.70" y="364.50" width="40.20" height="0.90" fill="#ff1b00"/>
<rect x="391.70" y="365.40" width="40.20" height="0.93" fill="#ff2000"/>
<rect x="391.70" y="368.40" width="40.20" height="0.60" fill="#ff2400"/>
<rect x="391.70" y="369.00" width="40.20" height="3.30" fill="#ff8800"/>
<rect x="391.70" y="369.00" width="40.20" height="1.20" fill="#ff8800"/>
<rect x="391.70" y="370.20" width="40.20" height="1.80" fill="#ff8900"/>
<rect x="391.70" y="372.00" width="40.20" height="5.10" fill="#ffffb0"/>
<rect x="391.70" y="376.16" width="40.20" height="0.64" fill="#ffffac"/>
<rect x="391.70" y="376.80" width="40.20" height="9.50" fill="#ffffd8"/>
<rect x="391.70" y="376.80" width="40.20" height="1.99" fill="#ffffd9"/>
<rect x="391.70" y="381.52" width="40.20" height="1.59" fill="#ffffe6"/>
<rect x="391.70" y="386.00" width="40.20" height="2.60" fill="#ffffc0"/>
<rect x="391.70" y="386.00" width="40.20" height="2.15" fill="#ffffbf"/>
<rect x="391.70" y="388.30" width="40.20" height="13.40" fill="#ffffd8"/>
<rect x="391.70" y="388.30" width="40.20" height="1.83" fill="#ffffe0"/>
<rect x="391.70" y="392.27" width="40.20" height="1.44" fill="#ffffe5"/>
<rect x="391.70" y="395.01" width="40.20" height="1.16" fill="#ffffd1"/>
<rect x="391.70" y="396.17" width="40.20" height="1.55" fill="#ffffd2"/>
<rect x="391.70" y="401.40" width="40.20" height="2.60" fill="#ffffb8"/>
<rect x="391.70" y="401.40" width="40.20" height="1.20" fill="#ffffaf"/>
<rect x="391.70" y="402.60" width="40.20" height="1.10" fill="#ffffbe"/>
<rect x="391.70" y="403.70" width="40.20" height="23.60" fill="#ffffd8"/>
<rect x="391.70" y="403.70" width="40.20" height="1.77" fill="#ffffcc"/>
<rect x="391.70" y="405.47" width="40.20" height="1.47" fill="#ffffda"/>
<rect x="391.70" y="406.94" width="40.20" height="2.08" fill="#ffffdc"/>
<rect x="391.70" y="409.02" width="40.20" height="1.27" fill="#ffffe3"/>
<rect x="391.70" y="410.29" width="40.20" height="1.64" fill="#ffffe2"/>
<rect x="391.70" y="411.93" width="40.20" height="1.15" fill="#ffffe1"/>
<rect x="391.70" y="413.08" width="40.20" height="1.61" fill="#ffffe6"/>
<rect x="391.70" y="417.49" width="40.20" height="1.66" fill="#ffffe6"/>
<rect x="391.70" y="419.15" width="40.20" height="1.55" fill="#ffffdb"/>
<rect x="391.70" y="422.61" width="40.20" height="1.32" fill="#ffffcb"/>
<rect x="391.70" y="423.93" width="40.20" height="1.57" fill="#ffffe5"/>
<rect x="431.60" y="183.30" width="40.20" height="3.00" fill="#ffd800"/>
<rect x="431.60" y="183.30" width="40.20" height="1.87" fill="#ffdd00"/>
<rect x="431.60" y="185.17" width="40.20" height="0.83" fill="#ffdd00"/>
<rect x="431.60" y="186.00" width="40.20" height="6.30" fill="#ffdc00"/>
<rect x="431.60" y="187.47" width="40.20" height="1.61" fill="#ffe400"/>
<rect x="431.60" y="189.08" width="40.20" height="1.93" fill="#ffdd00"/>
<rect x="431.60" y="192.00" width="40.20" height="4.30" fill="#ffb800"/>
<rect x="431.60" y="192.00" width="40.20" height="1.68" fill="#ffb000"/>
<rect x="431.60" y="196.00" width="40.20" height="3.70" fill="#ffa800"/>
<rect x="431.60" y="196.00" width="40.20" height="1.13" fill="#ff9a00"/>
<rect x="431.60" y="199.40" width="40.20" height="4.90" fill="#ffe000"/>
<rect x="431.60" y="199.40" width="40.20" height="2.01" fill="#ffd500"/>
<rect x="431.60" y="204.00" width="40.20" height="4.30" fill="#ffc800"/>
<rect x="431.60" y="204.00" width="40.20" height="1.21" fill="#ffc300"/>
<rect x="431.60" y="208.00" width="40.20" height="3.70" fill="#ffb400"/>
<rect x="431.60" y="211.40" width="40.20" height="4.90" fill="#ffd800"/>
<rect x="431.60" y="211.40" width="40.20" height="1.56" fill="#ffd100"/>
<rect x="431.60" y="216.00" width="40.20" height="6.10" fill="#ffe000"/>
<rect x="431.60" y="216.00" width="40.20" height="0.98" fill="#ffdd00"/>
<rect x="431.60" y="218.79" width="40.20" height="2.14" fill="#ffea00"/>
<rect x="431.60" y="221.80" width="40.20" height="4.80" fill="#ffe400"/>
<rect x="431.60" y="221.80" width="40.20" height="1.09" fill="#ffed00"/>
<rect x="431.60" y="222.89" width="40.20" height="2.18" fill="#ffe300"/>
<rect x="431.60" y="225.07" width="40.20" height="1.23" fill="#ffe200"/>
<rect x="431.60" y="226.30" width="40.20" height="7.70" fill="#ffd000"/>
<rect x="431.60" y="226.30" width="40.20" height="1.62" fill="#ffc400"/>
<rect x="431.60" y="231.92" width="40.20" height="1.70" fill="#ffc500"/>
<rect x="431.60" y="233.70" width="40.20" height="9.30" fill="#ffe800"/>
<rect x="431.60" y="233.70" width="40.20" height="1.62" fill="#ffe800"/>
<rect x="431.60" y="235.32" width="40.20" height="1.01" fill="#ffe300"/>
<rect x="431.60" y="237.67" width="40.20" height="1.69" fill="#ffe600"/>
<rect x="431.60" y="242.70" width="40.20" height="4.80" fill="#ff9000"/>
<rect x="431.60" y="244.79" width="40.20" height="2.10" fill="#ff9d00"/>
<rect x="431.60" y="247.20" width="40.20" height="3.10" fill="#ff7000"/>
<rect x="431.60" y="250.00" width="40.20" height="2.00" fill="#ff5800"/>
<rect x="431.60" y="250.00" width="40.20" height="1.18" fill="#ff4f00"/>
<rect x="431.60" y="251.70" width="40.20" height="8.00" fill="#ffff40"/>
<rect x="431.60" y="251.70" width="40.20" height="1.52" fill="#ffff40"/>
<rect x="431.60" y="253.22" width="40.20" height="1.51" fill="#ffff40"/>
<rect x="431.60" y="256.27" width="40.20" height="1.14" fill="#ffff40"/>
<rect x="431.60" y="257.41" width="40.20" height="1.40" fill="#ffff40"/>
<rect x="431.60" y="259.40" width="40.20" height="14.10" fill="#ffff78"/>
<rect x="431.60" y="259.40" width="40.20" height="1.71" fill="#ffff81"/>
<rect x="431.60" y="261.11" width="40.20" height="1.24" fill="#ffff7e"/>
<rect x="431.60" y="262.35" width="40.20" height="1.83" fill="#ffff75"/>
<rect x="431.60" y="265.15" width="40.20" height="1.91" fill="#ffff71"/>
<rect x="431.60" y="268.90" width="40.20" height="0.93" fill="#ffff76"/>
<rect x="431.60" y="271.31" width="40.20" height="1.40" fill="#ffff86"/>
<rect x="431.60" y="273.20" width="40.20" height="4.90" fill="#ffffc8"/>
<rect x="431.60" y="273.20" width="40.20" height="1.58" fill="#ffffc6"/>
<rect x="431.60" y="274.78" width="40.20" height="1.69" fill="#ffffc0"/>
<rect x="431.60" y="277.80" width="40.20" height="12.50" fill="#ffff68"/>
<rect x="431.60" y="277.80" width="40.20" height="0.94" fill="#ffff67"/>
<rect x="431.60" y="280.26" width="40.20" height="1.57" fill="#ffff64"/>
<rect x="431.60" y="283.68" width="40.20" height="1.09" fill="#ffff62"/>
<rect x="431.60" y="284.77" width="40.20" height="1.60" fill="#ffff5e"/>
<rect x="431.60" y="287.77" width="40.20" height="1.19" fill="#ffff65"/>
<rect x="431.60" y="288.96" width="40.20" height="1.04" fill="#ffff75"/>
<rect x="431.60" y="290.00" width="40.20" height="15.30" fill="#ffff50"/>
<rect x="431.60" y="292.57" width="40.20" height="2.17" fill="#ffff50"/>
<rect x="431.60" y="295.72" width="40.20" height="1.63" fill="#fff450"/>
<rect x="431.60" y="300.70" width="40.20" height="1.02" fill="#fffd50"/>
<rect x="431.60" y="301.71" width="40.20" height="1.54" fill="#fffb50"/>
<rect x="431.60" y="305.00" width="40.20" height="9.50" fill="#ffff40"/>
<rect x="431.60" y="312.36" width="40.20" height="1.52" fill="#ffff40"/>
<rect x="431.60" y="314.20" width="40.20" height="3.40" fill="#ffe000"/>
<rect x="431.60" y="315.82" width="40.20" height="0.93" fill="#ffdd00"/>
<rect x="431.60" y="317.30" width="40.20" height="6.50" fill="#ffffc0"/>
<rect x="431.60" y="317.30" width="40.20" height="1.25" fill="#ffffcd"/>
<rect x="431.60" y="318.55" width="40.20" height="1.66" fill="#ffffbc"/>
<rect x="431.60" y="320.22" width="40.20" height="2.05" fill="#ffffb3"/>
<rect x="431.60" y="323.50" width="40.20" height="1.80" fill="#fff8a0"/>
<rect x="431.60" y="323.50" width="40.20" height="1.50" fill="#fff8a7"/>
<rect x="431.60" y="325.00" width="40.20" height="35.80" fill="#ffffd8"/>
<rect x="431.60" y="327.05" width="40.20" height="1.40" fill="#ffffe6"/>
<rect x="431.60" y="333.66" width="40.20" height="1.43" fill="#ffffd2"/>
<rect x="431.60" y="335.10" width="40.20" height="0.99" fill="#ffffd8"/>
<rect x="431.60" y="337.48" width="40.20" height="0.95" fill="#ffffda"/>
<rect x="431.60" y="338.43" width="40.20" height="1.25" fill="#ffffd9"/>
<rect x="431.60" y="339.69" width="40.20" height="2.17" fill="#ffffd0"/>
<rect x="431.60" y="341.86" width="40.20" height="1.25" fill="#ffffd1"/>
<rect x="431.60" y="343.11" width="40.20" height="1.20" fill="#ffffdb"/>
<rect x="431.60" y="344.31" width="40.20" height="2.17" fill="#ffffdb"/>
<rect x="431.60" y="351.27" width="40.20" height="2.16" fill="#ffffd5"/>
<rect x="431.60" y="353.43" width="40.20" height="1.04" fill="#ffffe3"/>
<rect x="431.60" y="358.09" width="40.20" height="1.97" fill="#ffffdd"/>
<rect x="431.60" y="360.50" width="40.20" height="4.80" fill="#ff2000"/>
<rect x="431.60" y="362.30" width="40.20" height="1.28" fill="#ff1d00"/>
<rect x="431.60" y="363.58" width="40.20" height="1.42" fill="#ff1900"/>
<rect x="431.60" y="365.00" width="40.20" height="3.30" fill="#ff7000"/>
<rect x="431.60" y="365.00" width="40.20" height="1.74" fill="#ff7800"/>
<rect x="431.60" y="366.74" width="40.20" height="1.13" fill="#ff6600"/>
<rect x="431.60" y="368.00" width="40.20" height="2.90" fill="#ffe000"/>
<rect x="431.60" y="370.60" width="40.20" height="6.50" fill="#ff8000"/>
<rect x="431.60" y="374.42" width="40.20" height="1.44" fill="#ff7d00"/>
<rect x="431.60" y="375.86" width="40.20" height="0.94" fill="#ff8b00"/>
<rect x="431.60" y="376.80" width="40.20" height="6.50" fill="#ff7000"/>
<rect x="431.60" y="376.80" width="40.20" height="1.80" fill="#ff7600"/>
<rect x="431.60" y="379.83" width="40.20" height="1.32" fill="#ff7a00"/>
<rect x="431.60" y="383.00" width="40.20" height="4.80" fill="#ff9000"/>
<rect x="431.60" y="383.00" width="40.20" height="1.73" fill="#ff9900"/>
<rect x="431.60" y="386.71" width="40.20" height="0.79" fill="#ff9700"/>
<rect x="431.60" y="387.50" width="40.20" height="8.00" fill="#ff8000"/>
<rect x="431.60" y="388.78" width="40.20" height="2.17" fill="#ff8800"/>
<rect x="431.60" y="395.20" width="40.20" height="6.50" fill="#ffa000"/>
<rect x="431.60" y="396.62" width="40.20" height="2.19" fill="#ffa800"/>
<rect x="431.60" y="401.40" width="40.20" height="7.90" fill="#ff6800"/>
<rect x="431.60" y="401.40" width="40.20" height="1.15" fill="#ff6b00"/>
<rect x="431.60" y="402.55" width="40.20" height="2.19" fill="#ff6400"/>
<rect x="431.60" y="406.82" width="40.20" height="2.01" fill="#ff5c00"/>
<rect x="431.60" y="409.00" width="40.20" height="6.50" fill="#ff8000"/>
<rect x="431.60" y="410.30" width="40.20" height="1.99" fill="#ff7e00"/>
<rect x="431.60" y="412.29" width="40.20" height="1.84" fill="#ff7600"/>
<rect x="431.60" y="414.13" width="40.20" height="1.07" fill="#ff8800"/>
<rect x="431.60" y="415.20" width="40.20" height="12.10" fill="#ff7000"/>
<rect x="431.60" y="415.20" width="40.20" height="1.18" fill="#ff7d00"/>
<rect x="431.60" y="416.38" width="40.20" height="1.09" fill="#ff6500"/>
<rect x="431.60" y="419.10" width="40.20" height="2.04" fill="#ff6600"/>
<rect x="431.60" y="421.14" width="40.20" height="1.32" fill="#ff7400"/>
<rect x="431.60" y="422.46" width="40.20" height="1.64" fill="#ff6e00"/>
<rect x="431.60" y="424.10" width="40.20" height="1.26" fill="#ff7100"/>
<line x1="278.30" y1="337.50" x2="278.30" y2="407.80" stroke="#b4b4b4" stroke-width="0.5"/>
<line x1="278.30" y1="337.50" x2="282.70" y2="337.50" stroke="#b4b4b4" stroke-width="0.5"/>
<line x1="278.30" y1="407.80" x2="302.40" y2="407.80" stroke="#b4b4b4" stroke-width="0.5"/>
<line x1="282.70" y1="304.90" x2="282.70" y2="367.80" stroke="#b4b4b4" stroke-width="0.5"/>
<line x1="282.70" y1="304.90" x2="293.20" y2="304.90" stroke="#b4b4b4" stroke-width="0.5"/>
<line x1="282.70" y1="367.80" x2="288.00" y2="367.80" stroke="#b4b4b4" stroke-width="0.5"/>
<line x1="293.20" y1="265.40" x2="293.20" y2="344.50" stroke="#b4b4b4" stroke-width="0.5"/>
<line x1="293.20" y1="265.40" x2="302.80" y2="265.40" stroke="#b4b4b4" stroke-width="0.5"/>
<line x1="293.20" y1="344.50" x2="306.00" y2="344.50" stroke="#b4b4b4" stroke-width="0.5"/>
<line x1="302.80" y1="233.60" x2="302.80" y2="297.30" stroke="#b4b4b4" stroke-width="0.5"/>
<line x1="302.80" y1="233.60" x2="305.60" y2="233.60" stroke="#b4b4b4" stroke-width="0.5"/>
<line x1="302.80" y1="297.30" x2="306.10" y2="297.30" stroke="#b4b4b4" stroke-width="0.5"/>
<line x1="305.60" y1="205.00" x2="305.60" y2="245.80" stroke="#b4b4b4" stroke-width="0.5"/>
<line x1="302.40" y1="398.20" x2="302.40" y2="421.40" stroke="#b4b4b4" stroke-width="0.5"/>
<line x1="288.00" y1="363.50" x2="288.00" y2="371.50" stroke="#b4b4b4" stroke-width="0.5"/>
<line x1="288.00" y1="363.50" x2="300.00" y2="363.50" stroke="#b4b4b4" stroke-width="0.5"/>
<line x1="288.00" y1="371.50" x2="300.00" y2="371.50" stroke="#b4b4b4" stroke-width="0.5"/>
<line x1="305.60" y1="205.00" x2="305.60" y2="245.80" stroke="#b4b4b4" stroke-width="0.5"/>
<line x1="305.60" y1="205.00" x2="308.20" y2="205.00" stroke="#b4b4b4" stroke-width="0.5"/>
<line x1="305.60" y1="245.80" x2="307.00" y2="245.80" stroke="#b4b4b4" stroke-width="0.5"/>
<line x1="308.20" y1="193.07" x2="308.20" y2="214.92" stroke="#b4b4b4" stroke-width="0.5"/>
<line x1="308.20" y1="193.07" x2="308.87" y2="193.07" stroke="#b4b4b4" stroke-width="0.5"/>
<line x1="308.20" y1="214.92" x2="309.42" y2="214.92" stroke="#b4b4b4" stroke-width="0.5"/>
<line x1="308.87" y1="186.93" x2="308.87" y2="196.70" stroke="#b4b4b4" stroke-width="0.5"/>
<line x1="308.87" y1="186.93" x2="309.96" y2="186.93" stroke="#b4b4b4" stroke-width="0.5"/>
<line x1="308.87" y1="196.70" x2="309.77" y2="196.70" stroke="#b4b4b4" stroke-width="0.5"/>
<line x1="309.96" y1="184.63" x2="309.96" y2="188.27" stroke="#b4b4b4" stroke-width="0.5"/>
<line x1="309.96" y1="184.63" x2="311.01" y2="184.63" stroke="#b4b4b4" stroke-width="0.5"/>
<line x1="309.96" y1="188.27" x2="310.50" y2="188.27" stroke="#b4b4b4" stroke-width="0.5"/>
<line x1="311.01" y1="183.94" x2="311.01" y2="185.27" stroke="#b4b4b4" stroke-width="0.5"/>
<line x1="311.01" y1="183.94" x2="311.59" y2="183.94" stroke="#b4b4b4" stroke-width="0.5"/>
<line x1="311.01" y1="185.27" x2="311.60" y2="185.27" stroke="#b4b4b4" stroke-width="0.5"/>
<line x1="311.59" y1="183.94" x2="312.50" y2="183.94" stroke="#b4b4b4" stroke-width="0.5"/>
<line x1="311.60" y1="185.27" x2="312.50" y2="185.27" stroke="#b4b4b4" stroke-width="0.5"/>
<line x1="310.50" y1="187.07" x2="310.50" y2="189.36" stroke="#b4b4b4" stroke-width="0.5"/>
<line x1="310.50" y1="187.07" x2="311.60" y2="187.07" stroke="#b4b4b4" stroke-width="0.5"/>
<line x1="310.50" y1="189.36" x2="311.13" y2="189.36" stroke="#b4b4b4" stroke-width="0.5"/>
<line x1="311.60" y1="187.07" x2="312.50" y2="187.07" stroke="#b4b4b4" stroke-width="0.5"/>
<line x1="311.13" y1="189.36" x2="312.50" y2="189.36" stroke="#b4b4b4" stroke-width="0.5"/>
<line x1="309.77" y1="193.12" x2="309.77" y2="199.26" stroke="#b4b4b4" stroke-width="0.5"/>
<line x1="309.77" y1="193.12" x2="310.96" y2="193.12" stroke="#b4b4b4" stroke-width="0.5"/>
<line x1="309.77" y1="199.26" x2="311.31" y2="199.26" stroke="#b4b4b4" stroke-width="0.5"/>
<line x1="310.96" y1="191.90" x2="310.96" y2="194.46" stroke="#b4b4b4" stroke-width="0.5"/>
<line x1="310.96" y1="191.90" x2="311.60" y2="191.90" stroke="#b4b4b4" stroke-width="0.5"/>
<line x1="310.96" y1="194.46" x2="311.60" y2="194.46" stroke="#b4b4b4" stroke-width="0.5"/>
<line x1="311.60" y1="191.05" x2="311.60" y2="192.39" stroke="#b4b4b4" stroke-width="0.5"/>
<line x1="311.60" y1="191.05" x2="311.60" y2="191.05" stroke="#b4b4b4" stroke-width="0.5"/>
<line x1="311.60" y1="192.39" x2="311.60" y2="192.39" stroke="#b4b4b4" stroke-width="0.5"/>
<line x1="311.60" y1="191.05" x2="312.50" y2="191.05" stroke="#b4b4b4" stroke-width="0.5"/>
<line x1="311.60" y1="192.39" x2="312.50" y2="192.39" stroke="#b4b4b4" stroke-width="0.5"/>
<line x1="311.60" y1="194.46" x2="312.50" y2="194.46" stroke="#b4b4b4" stroke-width="0.5"/>
<line x1="311.31" y1="197.09" x2="311.31" y2="200.67" stroke="#b4b4b4" stroke-width="0.5"/>
<line x1="311.31" y1="197.09" x2="311.60" y2="197.09" stroke="#b4b4b4" stroke-width="0.5"/>
<line x1="311.31" y1="200.67" x2="311.60" y2="200.67" stroke="#b4b4b4" stroke-width="0.5"/>
<line x1="311.60" y1="196.52" x2="311.60" y2="197.93" stroke="#b4b4b4" stroke-width="0.5"/>
<line x1="311.60" y1="196.52" x2="311.60" y2="196.52" stroke="#b4b4b4" stroke-width="0.5"/>
<line x1="311.60" y1="197.93" x2="311.60" y2="197.93" stroke="#b4b4b4" stroke-width="0.5"/>
<line x1="311.60" y1="196.52" x2="312.50" y2="196.52" stroke="#b4b4b4" stroke-width="0.5"/>
<line x1="311.60" y1="197.93" x2="312.50" y2="197.93" stroke="#b4b4b4" stroke-width="0.5"/>
<line x1="311.60" y1="199.67" x2="311.60" y2="201.85" stroke="#b4b4b4" stroke-width="0.5"/>
<line x1="311.60" y1="199.67" x2="311.60" y2="199.67" stroke="#b4b4b4" stroke-width="0.5"/>
<line x1="311.60" y1="201.85" x2="311.60" y2="201.85" stroke="#b4b4b4" stroke-width="0.5"/>
<line x1="311.60" y1="199.67" x2="312.50" y2="199.67" stroke="#b4b4b4" stroke-width="0.5"/>
<line x1="311.60" y1="201.85" x2="312.50" y2="201.85" stroke="#b4b4b4" stroke-width="0.5"/>
<line x1="309.42" y1="207.30" x2="309.42" y2="219.38" stroke="#b4b4b4" stroke-width="0.5"/>
<line x1="309.42" y1="207.30" x2="309.98" y2="207.30" stroke="#b4b4b4" stroke-width="0.5"/>
<line x1="309.42" y1="219.38" x2="310.14" y2="219.38" stroke="#b4b4b4" stroke-width="0.5"/>
<line x1="309.98" y1="205.31" x2="309.98" y2="209.76" stroke="#b4b4b4" stroke-width="0.5"/>
<line x1="309.98" y1="205.31" x2="310.95" y2="205.31" stroke="#b4b4b4" stroke-width="0.5"/>
<line x1="309.98" y1="209.76" x2="310.83" y2="209.76" stroke="#b4b4b4" stroke-width="0.5"/>
<line x1="310.95" y1="204.14" x2="310.95" y2="206.61" stroke="#b4b4b4" stroke-width="0.5"/>
<line x1="310.95" y1="204.14" x2="311.60" y2="204.14" stroke="#b4b4b4" stroke-width="0.5"/>
<line x1="310.95" y1="206.61" x2="311.60" y2="206.61" stroke="#b4b4b4" stroke-width="0.5"/>
<line x1="311.60" y1="204.14" x2="312.50" y2="204.14" stroke="#b4b4b4" stroke-width="0.5"/>
<line x1="311.60" y1="206.61" x2="312.50" y2="206.61" stroke="#b4b4b4" stroke-width="0.5"/>
<line x1="310.83" y1="208.95" x2="310.83" y2="210.93" stroke="#b4b4b4" stroke-width="0.5"/>
<line x1="310.83" y1="208.95" x2="311.60" y2="208.95" stroke="#b4b4b4" stroke-width="0.5"/>
<line x1="310.83" y1="210.93" x2="311.60" y2="210.93" stroke="#b4b4b4" stroke-width="0.5"/>
<line x1="311.60" y1="208.95" x2="312.50" y2="208.95" stroke="#b4b4b4" stroke-width="0.5"/>
<line x1="311.60" y1="210.93" x2="312.50" y2="210.93" stroke="#b4b4b4" stroke-width="0.5"/>
<line x1="310.14" y1="215.73" x2="310.14" y2="223.36" stroke="#b4b4b4" stroke-width="0.5"/>
<line x1="310.14" y1="215.73" x2="311.22" y2="215.73" stroke="#b4b4b4" stroke-width="0.5"/>
<line x1="310.14" y1="223.36" x2="311.60" y2="223.36" stroke="#b4b4b4" stroke-width="0.5"/>
<line x1="311.22" y1="214.02" x2="311.22" y2="218.00" stroke="#b4b4b4" stroke-width="0.5"/>
<line x1="311.22" y1="214.02" x2="311.60" y2="214.02" stroke="#b4b4b4" stroke-width="0.5"/>
<line x1="311.22" y1="218.00" x2="311.60" y2="218.00" stroke="#b4b4b4" stroke-width="0.5"/>
<line x1="311.60" y1="212.62" x2="311.60" y2="214.89" stroke="#b4b4b4" stroke-width="0.5"/>
<line x1="311.60" y1="212.62" x2="311.60" y2="212.62" stroke="#b4b4b4" stroke-width="0.5"/>
<line x1="311.60" y1="214.89" x2="311.60" y2="214.89" stroke="#b4b4b4" stroke-width="0.5"/>
<line x1="311.60" y1="212.62" x2="312.50" y2="212.62" stroke="#b4b4b4" stroke-width="0.5"/>
<line x1="311.60" y1="214.05" x2="311.60" y2="215.44" stroke="#b4b4b4" stroke-width="0.5"/>
<line x1="311.60" y1="214.05" x2="311.60" y2="214.05" stroke="#b4b4b4" stroke-width="0.5"/>
<line x1="311.60" y1="215.44" x2="311.60" y2="215.44" stroke="#b4b4b4" stroke-width="0.5"/>
<line x1="311.60" y1="214.05" x2="312.50" y2="214.05" stroke="#b4b4b4" stroke-width="0.5"/>
<line x1="311.60" y1="215.44" x2="312.50" y2="215.44" stroke="#b4b4b4" stroke-width="0.5"/>
<line x1="311.60" y1="217.23" x2="311.60" y2="218.94" stroke="#b4b4b4" stroke-width="0.5"/>
<line x1="311.60" y1="217.23" x2="311.60" y2="217.23" stroke="#b4b4b4" stroke-width="0.5"/>
<line x1="311.60" y1="218.94" x2="311.60" y2="218.94" stroke="#b4b4b4" stroke-width="0.5"/>
<line x1="311.60" y1="217.23" x2="312.50" y2="217.23" stroke="#b4b4b4" stroke-width="0.5"/>
<line x1="311.60" y1="218.94" x2="312.50" y2="218.94" stroke="#b4b4b4" stroke-width="0.5"/>
<line x1="311.60" y1="221.95" x2="311.60" y2="225.59" stroke="#b4b4b4" stroke-width="0.5"/>
<line x1="311.60" y1="221.95" x2="311.60" y2="221.95" stroke="#b4b4b4" stroke-width="0.5"/>
<line x1="311.60" y1="225.59" x2="311.60" y2="225.59" stroke="#b4b4b4" stroke-width="0.5"/>
<line x1="311.60" y1="220.89" x2="311.60" y2="223.13" stroke="#b4b4b4" stroke-width="0.5"/>
<line x1="311.60" y1="220.89" x2="311.60" y2="220.89" stroke="#b4b4b4" stroke-width="0.5"/>
<line x1="311.60" y1="223.13" x2="311.60" y2="223.13" stroke="#b4b4b4" stroke-width="0.5"/>
<line x1="311.60" y1="220.89" x2="312.50" y2="220.89" stroke="#b4b4b4" stroke-width="0.5"/>
<line x1="311.60" y1="223.13" x2="312.50" y2="223.13" stroke="#b4b4b4" stroke-width="0.5"/>
<line x1="311.60" y1="225.03" x2="311.60" y2="226.44" stroke="#b4b4b4" stroke-width="0.5"/>
<line x1="311.60" y1="225.03" x2="311.60" y2="225.03" stroke="#b4b4b4" stroke-width="0.5"/>
<line x1="311.60" y1="226.44" x2="311.60" y2="226.44" stroke="#b4b4b4" stroke-width="0.5"/>
<line x1="311.60" y1="225.03" x2="312.50" y2="225.03" stroke="#b4b4b4" stroke-width="0.5"/>
<line x1="311.60" y1="226.44" x2="312.50" y2="226.44" stroke="#b4b4b4" stroke-width="0.5"/>
<line x1="307.00" y1="242.39" x2="307.00" y2="250.39" stroke="#b4b4b4" stroke-width="0.5"/>
<line x1="307.00" y1="242.39" x2="307.57" y2="242.39" stroke="#b4b4b4" stroke-width="0.5"/>
<line x1="307.00" y1="250.39" x2="308.27" y2="250.39" stroke="#b4b4b4" stroke-width="0.5"/>
<line x1="307.57" y1="240.39" x2="307.57" y2="244.78" stroke="#b4b4b4" stroke-width="0.5"/>
<line x1="307.57" y1="240.39" x2="309.16" y2="240.39" stroke="#b4b4b4" stroke-width="0.5"/>
<line x1="307.57" y1="244.78" x2="308.97" y2="244.78" stroke="#b4b4b4" stroke-width="0.5"/>
<line x1="309.16" y1="239.04" x2="309.16" y2="241.43" stroke="#b4b4b4" stroke-width="0.5"/>
<line x1="309.16" y1="239.04" x2="310.08" y2="239.04" stroke="#b4b4b4" stroke-width="0.5"/>
<line x1="309.16" y1="241.43" x2="310.39" y2="241.43" stroke="#b4b4b4" stroke-width="0.5"/>
<line x1="310.08" y1="239.04" x2="312.50" y2="239.04" stroke="#b4b4b4" stroke-width="0.5"/>
<line x1="310.39" y1="240.56" x2="310.39" y2="241.91" stroke="#b4b4b4" stroke-width="0.5"/>
<line x1="310.39" y1="240.56" x2="311.40" y2="240.56" stroke="#b4b4b4" stroke-width="0.5"/>
<line x1="310.39" y1="241.91" x2="311.08" y2="241.91" stroke="#b4b4b4" stroke-width="0.5"/>
<line x1="311.40" y1="240.56" x2="312.50" y2="240.56" stroke="#b4b4b4" stroke-width="0.5"/>
<line x1="311.08" y1="241.91" x2="312.50" y2="241.91" stroke="#b4b4b4" stroke-width="0.5"/>
<line x1="308.97" y1="243.55" x2="308.97" y2="245.56" stroke="#b4b4b4" stroke-width="0.5"/>
<line x1="308.97" y1="243.55" x2="309.54" y2="243.55" stroke="#b4b4b4" stroke-width="0.5"/>
<line x1="308.97" y1="245.56" x2="310.32" y2="245.56" stroke="#b4b4b4" stroke-width="0.5"/>
<line x1="309.54" y1="243.55" x2="312.50" y2="243.55" stroke="#b4b4b4" stroke-width="0.5"/>
<line x1="310.32" y1="245.56" x2="312.50" y2="245.56" stroke="#b4b4b4" stroke-width="0.5"/>
<line x1="308.27" y1="248.19" x2="308.27" y2="251.80" stroke="#b4b4b4" stroke-width="0.5"/>
<line x1="308.27" y1="248.19" x2="309.04" y2="248.19" stroke="#b4b4b4" stroke-width="0.5"/>
<line x1="308.27" y1="251.80" x2="309.20" y2="251.80" stroke="#b4b4b4" stroke-width="0.5"/>
<line x1="309.04" y1="247.65" x2="309.04" y2="249.05" stroke="#b4b4b4" stroke-width="0.5"/>
<line x1="309.04" y1="247.65" x2="309.63" y2="247.65" stroke="#b4b4b4" stroke-width="0.5"/>
<line x1="309.04" y1="249.05" x2="310.04" y2="249.05" stroke="#b4b4b4" stroke-width="0.5"/>
<line x1="309.63" y1="247.65" x2="312.50" y2="247.65" stroke="#b4b4b4" stroke-width="0.5"/>
<line x1="310.04" y1="249.05" x2="312.50" y2="249.05" stroke="#b4b4b4" stroke-width="0.5"/>
<line x1="309.20" y1="250.73" x2="309.20" y2="252.93" stroke="#b4b4b4" stroke-width="0.5"/>
<line x1="309.20" y1="250.73" x2="310.67" y2="250.73" stroke="#b4b4b4" stroke-width="0.5"/>
<line x1="309.20" y1="252.93" x2="310.60" y2="252.93" stroke="#b4b4b4" stroke-width="0.5"/>
<line x1="310.67" y1="250.73" x2="312.50" y2="250.73" stroke="#b4b4b4" stroke-width="0.5"/>
<line x1="310.60" y1="252.93" x2="312.50" y2="252.93" stroke="#b4b4b4" stroke-width="0.5"/>
<line x1="306.70" y1="280.60" x2="306.70" y2="315.00" stroke="#b4b4b4" stroke-width="0.5"/>
<line x1="306.70" y1="280.60" x2="308.70" y2="280.60" stroke="#b4b4b4" stroke-width="0.5"/>
<line x1="306.70" y1="315.00" x2="307.50" y2="315.00" stroke="#b4b4b4" stroke-width="0.5"/>
<line x1="308.70" y1="266.00" x2="308.70" y2="292.00" stroke="#b4b4b4" stroke-width="0.5"/>
<line x1="309.00" y1="262.09" x2="309.00" y2="272.09" stroke="#b4b4b4" stroke-width="0.5"/>
<line x1="309.00" y1="262.09" x2="309.81" y2="262.09" stroke="#b4b4b4" stroke-width="0.5"/>
<line x1="309.00" y1="272.09" x2="309.96" y2="272.09" stroke="#b4b4b4" stroke-width="0.5"/>
<line x1="309.81" y1="258.79" x2="309.81" y2="264.88" stroke="#b4b4b4" stroke-width="0.5"/>
<line x1="309.81" y1="258.79" x2="311.28" y2="258.79" stroke="#b4b4b4" stroke-width="0.5"/>
<line x1="309.81" y1="264.88" x2="311.36" y2="264.88" stroke="#b4b4b4" stroke-width="0.5"/>
<line x1="311.28" y1="257.10" x2="311.28" y2="259.89" stroke="#b4b4b4" stroke-width="0.5"/>
<line x1="311.28" y1="257.10" x2="311.60" y2="257.10" stroke="#b4b4b4" stroke-width="0.5"/>
<line x1="311.28" y1="259.89" x2="311.60" y2="259.89" stroke="#b4b4b4" stroke-width="0.5"/>
<line x1="311.60" y1="257.10" x2="312.50" y2="257.10" stroke="#b4b4b4" stroke-width="0.5"/>
<line x1="311.60" y1="258.91" x2="311.60" y2="260.60" stroke="#b4b4b4" stroke-width="0.5"/>
<line x1="311.60" y1="258.91" x2="311.60" y2="258.91" stroke="#b4b4b4" stroke-width="0.5"/>
<line x1="311.60" y1="260.60" x2="311.60" y2="260.60" stroke="#b4b4b4" stroke-width="0.5"/>
<line x1="311.60" y1="258.91" x2="312.50" y2="258.91" stroke="#b4b4b4" stroke-width="0.5"/>
<line x1="311.60" y1="260.60" x2="312.50" y2="260.60" stroke="#b4b4b4" stroke-width="0.5"/>
<line x1="311.36" y1="262.99" x2="311.36" y2="266.30" stroke="#b4b4b4" stroke-width="0.5"/>
<line x1="311.36" y1="262.99" x2="311.60" y2="262.99" stroke="#b4b4b4" stroke-width="0.5"/>
<line x1="311.36" y1="266.30" x2="311.60" y2="266.30" stroke="#b4b4b4" stroke-width="0.5"/>
<line x1="311.60" y1="262.23" x2="311.60" y2="263.65" stroke="#b4b4b4" stroke-width="0.5"/>
<line x1="311.60" y1="262.23" x2="311.60" y2="262.23" stroke="#b4b4b4" stroke-width="0.5"/>
<line x1="311.60" y1="263.65" x2="311.60" y2="263.65" stroke="#b4b4b4" stroke-width="0.5"/>
<line x1="311.60" y1="262.23" x2="312.50" y2="262.23" stroke="#b4b4b4" stroke-width="0.5"/>
<line x1="311.60" y1="263.65" x2="312.50" y2="263.65" stroke="#b4b4b4" stroke-width="0.5"/>
<line x1="311.60" y1="265.46" x2="311.60" y2="267.35" stroke="#b4b4b4" stroke-width="0.5"/>
<line x1="311.60" y1="265.46" x2="311.60" y2="265.46" stroke="#b4b4b4" stroke-width="0.5"/>
<line x1="311.60" y1="267.35" x2="311.60" y2="267.35" stroke="#b4b4b4" stroke-width="0.5"/>
<line x1="311.60" y1="265.46" x2="312.50" y2="265.46" stroke="#b4b4b4" stroke-width="0.5"/>
<line x1="311.60" y1="267.35" x2="312.50" y2="267.35" stroke="#b4b4b4" stroke-width="0.5"/>
<line x1="309.96" y1="270.34" x2="309.96" y2="274.25" stroke="#b4b4b4" stroke-width="0.5"/>
<line x1="309.96" y1="270.34" x2="310.52" y2="270.34" stroke="#b4b4b4" stroke-width="0.5"/>
<line x1="309.96" y1="274.25" x2="311.45" y2="274.25" stroke="#b4b4b4" stroke-width="0.5"/>
<line x1="310.52" y1="269.45" x2="310.52" y2="271.61" stroke="#b4b4b4" stroke-width="0.5"/>
<line x1="310.52" y1="269.45" x2="311.60" y2="269.45" stroke="#b4b4b4" stroke-width="0.5"/>
<line x1="310.52" y1="271.61" x2="311.60" y2="271.61" stroke="#b4b4b4" stroke-width="0.5"/>
<line x1="311.60" y1="269.45" x2="312.50" y2="269.45" stroke="#b4b4b4" stroke-width="0.5"/>
<line x1="311.60" y1="271.61" x2="312.50" y2="271.61" stroke="#b4b4b4" stroke-width="0.5"/>
<line x1="311.45" y1="273.32" x2="311.45" y2="275.07" stroke="#b4b4b4" stroke-width="0.5"/>
<line x1="311.45" y1="273.32" x2="311.60" y2="273.32" stroke="#b4b4b4" stroke-width="0.5"/>
<line x1="311.45" y1="275.07" x2="311.60" y2="275.07" stroke="#b4b4b4" stroke-width="0.5"/>
<line x1="311.60" y1="273.32" x2="312.50" y2="273.32" stroke="#b4b4b4" stroke-width="0.5"/>
<line x1="311.60" y1="275.07" x2="312.50" y2="275.07" stroke="#b4b4b4" stroke-width="0.5"/>
<line x1="309.00" y1="289.24" x2="309.00" y2="295.24" stroke="#b4b4b4" stroke-width="0.5"/>
<line x1="309.00" y1="289.24" x2="309.57" y2="289.24" stroke="#b4b4b4" stroke-width="0.5"/>
<line x1="309.00" y1="295.24" x2="309.57" y2="295.24" stroke="#b4b4b4" stroke-width="0.5"/>
<line x1="309.57" y1="287.34" x2="309.57" y2="290.58" stroke="#b4b4b4" stroke-width="0.5"/>
<line x1="309.57" y1="287.34" x2="310.25" y2="287.34" stroke="#b4b4b4" stroke-width="0.5"/>
<line x1="309.57" y1="290.58" x2="310.44" y2="290.58" stroke="#b4b4b4" stroke-width="0.5"/>
<line x1="310.25" y1="286.49" x2="310.25" y2="287.83" stroke="#b4b4b4" stroke-width="0.5"/>
<line x1="310.25" y1="286.49" x2="310.75" y2="286.49" stroke="#b4b4b4" stroke-width="0.5"/>
<line x1="310.25" y1="287.83" x2="310.91" y2="287.83" stroke="#b4b4b4" stroke-width="0.5"/>
<line x1="310.75" y1="286.49" x2="312.50" y2="286.49" stroke="#b4b4b4" stroke-width="0.5"/>
<line x1="310.91" y1="287.83" x2="312.50" y2="287.83" stroke="#b4b4b4" stroke-width="0.5"/>
<line x1="310.44" y1="289.40" x2="310.44" y2="291.30" stroke="#b4b4b4" stroke-width="0.5"/>
<line x1="310.44" y1="289.40" x2="311.34" y2="289.40" stroke="#b4b4b4" stroke-width="0.5"/>
<line x1="310.44" y1="291.30" x2="310.97" y2="291.30" stroke="#b4b4b4" stroke-width="0.5"/>
<line x1="311.34" y1="289.40" x2="312.50" y2="289.40" stroke="#b4b4b4" stroke-width="0.5"/>
<line x1="310.97" y1="291.30" x2="312.50" y2="291.30" stroke="#b4b4b4" stroke-width="0.5"/>
<line x1="309.57" y1="294.17" x2="309.57" y2="296.93" stroke="#b4b4b4" stroke-width="0.5"/>
<line x1="309.57" y1="294.17" x2="310.75" y2="294.17" stroke="#b4b4b4" stroke-width="0.5"/>
<line x1="309.57" y1="296.93" x2="310.24" y2="296.93" stroke="#b4b4b4" stroke-width="0.5"/>
<line x1="310.75" y1="293.20" x2="310.75" y2="294.89" stroke="#b4b4b4" stroke-width="0.5"/>
<line x1="310.75" y1="293.20" x2="311.60" y2="293.20" stroke="#b4b4b4" stroke-width="0.5"/>
<line x1="310.75" y1="294.89" x2="311.60" y2="294.89" stroke="#b4b4b4" stroke-width="0.5"/>
<line x1="311.60" y1="293.20" x2="312.50" y2="293.20" stroke="#b4b4b4" stroke-width="0.5"/>
<line x1="311.60" y1="294.89" x2="312.50" y2="294.89" stroke="#b4b4b4" stroke-width="0.5"/>
<line x1="310.24" y1="296.93" x2="312.50" y2="296.93" stroke="#b4b4b4" stroke-width="0.5"/>
<line x1="307.50" y1="307.13" x2="307.50" y2="312.63" stroke="#b4b4b4" stroke-width="0.5"/>
<line x1="307.50" y1="307.13" x2="308.93" y2="307.13" stroke="#b4b4b4" stroke-width="0.5"/>
<line x1="307.50" y1="312.63" x2="309.09" y2="312.63" stroke="#b4b4b4" stroke-width="0.5"/>
<line x1="308.93" y1="306.04" x2="308.93" y2="308.17" stroke="#b4b4b4" stroke-width="0.5"/>
<line x1="308.93" y1="306.04" x2="309.97" y2="306.04" stroke="#b4b4b4" stroke-width="0.5"/>
<line x1="308.93" y1="308.17" x2="309.53" y2="308.17" stroke="#b4b4b4" stroke-width="0.5"/>
<line x1="309.97" y1="306.04" x2="312.50" y2="306.04" stroke="#b4b4b4" stroke-width="0.5"/>
<line x1="309.53" y1="308.17" x2="312.50" y2="308.17" stroke="#b4b4b4" stroke-width="0.5"/>
<line x1="309.09" y1="310.54" x2="309.09" y2="313.91" stroke="#b4b4b4" stroke-width="0.5"/>
<line x1="309.09" y1="310.54" x2="309.97" y2="310.54" stroke="#b4b4b4" stroke-width="0.5"/>
<line x1="309.09" y1="313.91" x2="309.88" y2="313.91" stroke="#b4b4b4" stroke-width="0.5"/>
<line x1="309.97" y1="310.54" x2="312.50" y2="310.54" stroke="#b4b4b4" stroke-width="0.5"/>
<line x1="309.88" y1="313.07" x2="309.88" y2="315.16" stroke="#b4b4b4" stroke-width="0.5"/>
<line x1="309.88" y1="313.07" x2="310.56" y2="313.07" stroke="#b4b4b4" stroke-width="0.5"/>
<line x1="309.88" y1="315.16" x2="310.41" y2="315.16" stroke="#b4b4b4" stroke-width="0.5"/>
<line x1="310.56" y1="313.07" x2="312.50" y2="313.07" stroke="#b4b4b4" stroke-width="0.5"/>
<line x1="310.41" y1="315.16" x2="312.50" y2="315.16" stroke="#b4b4b4" stroke-width="0.5"/>
<line x1="305.40" y1="335.00" x2="305.40" y2="355.50" stroke="#b4b4b4" stroke-width="0.5"/>
<line x1="306.50" y1="327.48" x2="306.50" y2="343.98" stroke="#b4b4b4" stroke-width="0.5"/>
<line x1="306.50" y1="327.48" x2="307.58" y2="327.48" stroke="#b4b4b4" stroke-width="0.5"/>
<line x1="306.50" y1="343.98" x2="307.16" y2="343.98" stroke="#b4b4b4" stroke-width="0.5"/>
<line x1="307.58" y1="322.38" x2="307.58" y2="332.86" stroke="#b4b4b4" stroke-width="0.5"/>
<line x1="307.58" y1="322.38" x2="308.11" y2="322.38" stroke="#b4b4b4" stroke-width="0.5"/>
<line x1="307.58" y1="332.86" x2="308.66" y2="332.86" stroke="#b4b4b4" stroke-width="0.5"/>
<line x1="308.11" y1="320.46" x2="308.11" y2="325.84" stroke="#b4b4b4" stroke-width="0.5"/>
<line x1="308.11" y1="320.46" x2="309.56" y2="320.46" stroke="#b4b4b4" stroke-width="0.5"/>
<line x1="308.11" y1="325.84" x2="309.38" y2="325.84" stroke="#b4b4b4" stroke-width="0.5"/>
<line x1="309.56" y1="318.48" x2="309.56" y2="321.94" stroke="#b4b4b4" stroke-width="0.5"/>
<line x1="309.56" y1="318.48" x2="310.46" y2="318.48" stroke="#b4b4b4" stroke-width="0.5"/>
<line x1="309.56" y1="321.94" x2="310.24" y2="321.94" stroke="#b4b4b4" stroke-width="0.5"/>
<line x1="310.46" y1="317.86" x2="310.46" y2="319.34" stroke="#b4b4b4" stroke-width="0.5"/>
<line x1="310.46" y1="317.86" x2="311.55" y2="317.86" stroke="#b4b4b4" stroke-width="0.5"/>
<line x1="310.46" y1="319.34" x2="311.60" y2="319.34" stroke="#b4b4b4" stroke-width="0.5"/>
<line x1="311.55" y1="317.86" x2="312.50" y2="317.86" stroke="#b4b4b4" stroke-width="0.5"/>
<line x1="311.60" y1="319.34" x2="312.50" y2="319.34" stroke="#b4b4b4" stroke-width="0.5"/>
<line x1="310.24" y1="320.85" x2="310.24" y2="322.83" stroke="#b4b4b4" stroke-width="0.5"/>
<line x1="310.24" y1="320.85" x2="310.99" y2="320.85" stroke="#b4b4b4" stroke-width="0.5"/>
<line x1="310.24" y1="322.83" x2="311.60" y2="322.83" stroke="#b4b4b4" stroke-width="0.5"/>
<line x1="310.99" y1="320.85" x2="312.50" y2="320.85" stroke="#b4b4b4" stroke-width="0.5"/>
<line x1="311.60" y1="322.83" x2="312.50" y2="322.83" stroke="#b4b4b4" stroke-width="0.5"/>
<line x1="309.38" y1="325.16" x2="309.38" y2="327.07" stroke="#b4b4b4" stroke-width="0.5"/>
<line x1="309.38" y1="325.16" x2="310.81" y2="325.16" stroke="#b4b4b4" stroke-width="0.5"/>
<line x1="309.38" y1="327.07" x2="310.76" y2="327.07" stroke="#b4b4b4" stroke-width="0.5"/>
<line x1="310.81" y1="325.16" x2="312.50" y2="325.16" stroke="#b4b4b4" stroke-width="0.5"/>
<line x1="310.76" y1="327.07" x2="312.50" y2="327.07" stroke="#b4b4b4" stroke-width="0.5"/>
<line x1="308.66" y1="330.79" x2="308.66" y2="335.90" stroke="#b4b4b4" stroke-width="0.5"/>
<line x1="308.66" y1="330.79" x2="309.98" y2="330.79" stroke="#b4b4b4" stroke-width="0.5"/>
<line x1="308.66" y1="335.90" x2="309.41" y2="335.90" stroke="#b4b4b4" stroke-width="0.5"/>
<line x1="309.98" y1="329.29" x2="309.98" y2="332.33" stroke="#b4b4b4" stroke-width="0.5"/>
<line x1="309.98" y1="329.29" x2="310.87" y2="329.29" stroke="#b4b4b4" stroke-width="0.5"/>
<line x1="309.98" y1="332.33" x2="310.51" y2="332.33" stroke="#b4b4b4" stroke-width="0.5"/>
<line x1="310.87" y1="328.30" x2="310.87" y2="329.84" stroke="#b4b4b4" stroke-width="0.5"/>
<line x1="310.87" y1="328.30" x2="311.60" y2="328.30" stroke="#b4b4b4" stroke-width="0.5"/>
<line x1="310.87" y1="329.84" x2="311.60" y2="329.84" stroke="#b4b4b4" stroke-width="0.5"/>
<line x1="311.60" y1="328.30" x2="312.50" y2="328.30" stroke="#b4b4b4" stroke-width="0.5"/>
<line x1="311.60" y1="329.84" x2="312.50" y2="329.84" stroke="#b4b4b4" stroke-width="0.5"/>
<line x1="310.51" y1="331.67" x2="310.51" y2="333.17" stroke="#b4b4b4" stroke-width="0.5"/>
<line x1="310.51" y1="331.67" x2="311.60" y2="331.67" stroke="#b4b4b4" stroke-width="0.5"/>
<line x1="310.51" y1="333.17" x2="311.50" y2="333.17" stroke="#b4b4b4" stroke-width="0.5"/>
<line x1="311.60" y1="331.67" x2="312.50" y2="331.67" stroke="#b4b4b4" stroke-width="0.5"/>
<line x1="311.50" y1="333.17" x2="312.50" y2="333.17" stroke="#b4b4b4" stroke-width="0.5"/>
<line x1="309.41" y1="335.14" x2="309.41" y2="337.20" stroke="#b4b4b4" stroke-width="0.5"/>
<line x1="309.41" y1="335.14" x2="311.00" y2="335.14" stroke="#b4b4b4" stroke-width="0.5"/>
<line x1="309.41" y1="337.20" x2="310.96" y2="337.20" stroke="#b4b4b4" stroke-width="0.5"/>
<line x1="311.00" y1="334.43" x2="311.00" y2="335.74" stroke="#b4b4b4" stroke-width="0.5"/>
<line x1="311.00" y1="334.43" x2="311.60" y2="334.43" stroke="#b4b4b4" stroke-width="0.5"/>
<line x1="311.00" y1="335.74" x2="311.60" y2="335.74" stroke="#b4b4b4" stroke-width="0.5"/>
<line x1="311.60" y1="334.43" x2="312.50" y2="334.43" stroke="#b4b4b4" stroke-width="0.5"/>
<line x1="311.60" y1="335.74" x2="312.50" y2="335.74" stroke="#b4b4b4" stroke-width="0.5"/>
<line x1="310.96" y1="337.20" x2="312.50" y2="337.20" stroke="#b4b4b4" stroke-width="0.5"/>
<line x1="307.16" y1="340.43" x2="307.16" y2="346.44" stroke="#b4b4b4" stroke-width="0.5"/>
<line x1="307.16" y1="340.43" x2="307.89" y2="340.43" stroke="#b4b4b4" stroke-width="0.5"/>
<line x1="307.16" y1="346.44" x2="308.35" y2="346.44" stroke="#b4b4b4" stroke-width="0.5"/>
<line x1="307.89" y1="339.49" x2="307.89" y2="341.95" stroke="#b4b4b4" stroke-width="0.5"/>
<line x1="307.89" y1="339.49" x2="309.31" y2="339.49" stroke="#b4b4b4" stroke-width="0.5"/>
<line x1="307.89" y1="341.95" x2="308.91" y2="341.95" stroke="#b4b4b4" stroke-width="0.5"/>
<line x1="309.31" y1="338.80" x2="309.31" y2="340.32" stroke="#b4b4b4" stroke-width="0.5"/>
<line x1="309.31" y1="338.80" x2="310.69" y2="338.80" stroke="#b4b4b4" stroke-width="0.5"/>
<line x1="309.31" y1="340.32" x2="309.90" y2="340.32" stroke="#b4b4b4" stroke-width="0.5"/>
<line x1="310.69" y1="338.80" x2="312.50" y2="338.80" stroke="#b4b4b4" stroke-width="0.5"/>
<line x1="309.90" y1="340.32" x2="312.50" y2="340.32" stroke="#b4b4b4" stroke-width="0.5"/>
<line x1="308.91" y1="341.95" x2="312.50" y2="341.95" stroke="#b4b4b4" stroke-width="0.5"/>
<line x1="308.35" y1="344.84" x2="308.35" y2="348.39" stroke="#b4b4b4" stroke-width="0.5"/>
<line x1="308.35" y1="344.84" x2="309.85" y2="344.84" stroke="#b4b4b4" stroke-width="0.5"/>
<line x1="308.35" y1="348.39" x2="309.71" y2="348.39" stroke="#b4b4b4" stroke-width="0.5"/>
<line x1="309.85" y1="344.01" x2="309.85" y2="345.96" stroke="#b4b4b4" stroke-width="0.5"/>
<line x1="309.85" y1="344.01" x2="310.87" y2="344.01" stroke="#b4b4b4" stroke-width="0.5"/>
<line x1="309.85" y1="345.96" x2="310.54" y2="345.96" stroke="#b4b4b4" stroke-width="0.5"/>
<line x1="310.87" y1="344.01" x2="312.50" y2="344.01" stroke="#b4b4b4" stroke-width="0.5"/>
<line x1="310.54" y1="345.96" x2="312.50" y2="345.96" stroke="#b4b4b4" stroke-width="0.5"/>
<line x1="309.71" y1="347.73" x2="309.71" y2="349.34" stroke="#b4b4b4" stroke-width="0.5"/>
<line x1="309.71" y1="347.73" x2="310.57" y2="347.73" stroke="#b4b4b4" stroke-width="0.5"/>
<line x1="309.71" y1="349.34" x2="311.09" y2="349.34" stroke="#b4b4b4" stroke-width="0.5"/>
<line x1="310.57" y1="347.73" x2="312.50" y2="347.73" stroke="#b4b4b4" stroke-width="0.5"/>
<line x1="311.09" y1="349.34" x2="312.50" y2="349.34" stroke="#b4b4b4" stroke-width="0.5"/>
<line x1="306.00" y1="353.57" x2="306.00" y2="357.57" stroke="#b4b4b4" stroke-width="0.5"/>
<line x1="306.00" y1="353.57" x2="306.94" y2="353.57" stroke="#b4b4b4" stroke-width="0.5"/>
<line x1="306.00" y1="357.57" x2="306.94" y2="357.57" stroke="#b4b4b4" stroke-width="0.5"/>
<line x1="306.94" y1="352.63" x2="306.94" y2="355.19" stroke="#b4b4b4" stroke-width="0.5"/>
<line x1="306.94" y1="352.63" x2="308.23" y2="352.63" stroke="#b4b4b4" stroke-width="0.5"/>
<line x1="306.94" y1="355.19" x2="307.62" y2="355.19" stroke="#b4b4b4" stroke-width="0.5"/>
<line x1="308.23" y1="351.63" x2="308.23" y2="353.26" stroke="#b4b4b4" stroke-width="0.5"/>
<line x1="308.23" y1="351.63" x2="308.90" y2="351.63" stroke="#b4b4b4" stroke-width="0.5"/>
<line x1="308.23" y1="353.26" x2="309.73" y2="353.26" stroke="#b4b4b4" stroke-width="0.5"/>
<line x1="308.90" y1="351.63" x2="312.50" y2="351.63" stroke="#b4b4b4" stroke-width="0.5"/>
<line x1="309.73" y1="353.26" x2="312.50" y2="353.26" stroke="#b4b4b4" stroke-width="0.5"/>
<line x1="307.62" y1="355.19" x2="312.50" y2="355.19" stroke="#b4b4b4" stroke-width="0.5"/>
<line x1="306.94" y1="356.98" x2="306.94" y2="358.41" stroke="#b4b4b4" stroke-width="0.5"/>
<line x1="306.94" y1="356.98" x2="307.60" y2="356.98" stroke="#b4b4b4" stroke-width="0.5"/>
<line x1="306.94" y1="358.41" x2="308.35" y2="358.41" stroke="#b4b4b4" stroke-width="0.5"/>
<line x1="307.60" y1="356.98" x2="312.50" y2="356.98" stroke="#b4b4b4" stroke-width="0.5"/>
<line x1="308.35" y1="358.41" x2="312.50" y2="358.41" stroke="#b4b4b4" stroke-width="0.5"/>
<line x1="300.00" y1="363.54" x2="300.00" y2="369.04" stroke="#b4b4b4" stroke-width="0.5"/>
<line x1="300.00" y1="363.54" x2="301.22" y2="363.54" stroke="#b4b4b4" stroke-width="0.5"/>
<line x1="300.00" y1="369.04" x2="300.89" y2="369.04" stroke="#b4b4b4" stroke-width="0.5"/>
<line x1="301.22" y1="361.82" x2="301.22" y2="365.37" stroke="#b4b4b4" stroke-width="0.5"/>
<line x1="301.22" y1="361.82" x2="301.87" y2="361.82" stroke="#b4b4b4" stroke-width="0.5"/>
<line x1="301.22" y1="365.37" x2="301.74" y2="365.37" stroke="#b4b4b4" stroke-width="0.5"/>
<line x1="301.87" y1="361.17" x2="301.87" y2="362.99" stroke="#b4b4b4" stroke-width="0.5"/>
<line x1="301.87" y1="361.17" x2="303.08" y2="361.17" stroke="#b4b4b4" stroke-width="0.5"/>
<line x1="301.87" y1="362.99" x2="302.95" y2="362.99" stroke="#b4b4b4" stroke-width="0.5"/>
<line x1="303.08" y1="361.17" x2="312.50" y2="361.17" stroke="#b4b4b4" stroke-width="0.5"/>
<line x1="302.95" y1="362.99" x2="312.50" y2="362.99" stroke="#b4b4b4" stroke-width="0.5"/>
<line x1="301.74" y1="364.73" x2="301.74" y2="366.45" stroke="#b4b4b4" stroke-width="0.5"/>
<line x1="301.74" y1="364.73" x2="302.72" y2="364.73" stroke="#b4b4b4" stroke-width="0.5"/>
<line x1="301.74" y1="366.45" x2="303.20" y2="366.45" stroke="#b4b4b4" stroke-width="0.5"/>
<line x1="302.72" y1="364.73" x2="312.50" y2="364.73" stroke="#b4b4b4" stroke-width="0.5"/>
<line x1="303.20" y1="366.45" x2="312.50" y2="366.45" stroke="#b4b4b4" stroke-width="0.5"/>
<line x1="300.89" y1="368.26" x2="300.89" y2="370.21" stroke="#b4b4b4" stroke-width="0.5"/>
<line x1="300.89" y1="368.26" x2="301.62" y2="368.26" stroke="#b4b4b4" stroke-width="0.5"/>
<line x1="300.89" y1="370.21" x2="301.66" y2="370.21" stroke="#b4b4b4" stroke-width="0.5"/>
<line x1="301.62" y1="368.26" x2="312.50" y2="368.26" stroke="#b4b4b4" stroke-width="0.5"/>
<line x1="301.66" y1="370.21" x2="312.50" y2="370.21" stroke="#b4b4b4" stroke-width="0.5"/>
<line x1="303.50" y1="378.13" x2="303.50" y2="392.13" stroke="#b4b4b4" stroke-width="0.5"/>
<line x1="303.50" y1="378.13" x2="304.26" y2="378.13" stroke="#b4b4b4" stroke-width="0.5"/>
<line x1="303.50" y1="392.13" x2="304.65" y2="392.13" stroke="#b4b4b4" stroke-width="0.5"/>
<line x1="304.26" y1="374.62" x2="304.26" y2="380.75" stroke="#b4b4b4" stroke-width="0.5"/>
<line x1="304.26" y1="374.62" x2="305.23" y2="374.62" stroke="#b4b4b4" stroke-width="0.5"/>
<line x1="304.26" y1="380.75" x2="304.91" y2="380.75" stroke="#b4b4b4" stroke-width="0.5"/>
<line x1="305.23" y1="373.63" x2="305.23" y2="376.26" stroke="#b4b4b4" stroke-width="0.5"/>
<line x1="305.23" y1="373.63" x2="306.11" y2="373.63" stroke="#b4b4b4" stroke-width="0.5"/>
<line x1="305.23" y1="376.26" x2="306.23" y2="376.26" stroke="#b4b4b4" stroke-width="0.5"/>
<line x1="306.11" y1="372.86" x2="306.11" y2="374.49" stroke="#b4b4b4" stroke-width="0.5"/>
<line x1="306.11" y1="372.86" x2="307.61" y2="372.86" stroke="#b4b4b4" stroke-width="0.5"/>
<line x1="306.11" y1="374.49" x2="307.08" y2="374.49" stroke="#b4b4b4" stroke-width="0.5"/>
<line x1="307.61" y1="372.86" x2="312.50" y2="372.86" stroke="#b4b4b4" stroke-width="0.5"/>
<line x1="307.08" y1="374.49" x2="312.50" y2="374.49" stroke="#b4b4b4" stroke-width="0.5"/>
<line x1="306.23" y1="376.26" x2="312.50" y2="376.26" stroke="#b4b4b4" stroke-width="0.5"/>
<line x1="304.91" y1="379.44" x2="304.91" y2="382.95" stroke="#b4b4b4" stroke-width="0.5"/>
<line x1="304.91" y1="379.44" x2="305.96" y2="379.44" stroke="#b4b4b4" stroke-width="0.5"/>
<line x1="304.91" y1="382.95" x2="305.99" y2="382.95" stroke="#b4b4b4" stroke-width="0.5"/>
<line x1="305.96" y1="378.36" x2="305.96" y2="380.55" stroke="#b4b4b4" stroke-width="0.5"/>
<line x1="305.96" y1="378.36" x2="306.48" y2="378.36" stroke="#b4b4b4" stroke-width="0.5"/>
<line x1="305.96" y1="380.55" x2="306.94" y2="380.55" stroke="#b4b4b4" stroke-width="0.5"/>
<line x1="306.48" y1="378.36" x2="312.50" y2="378.36" stroke="#b4b4b4" stroke-width="0.5"/>
<line x1="306.94" y1="380.55" x2="312.50" y2="380.55" stroke="#b4b4b4" stroke-width="0.5"/>
<line x1="305.99" y1="382.16" x2="305.99" y2="383.48" stroke="#b4b4b4" stroke-width="0.5"/>
<line x1="305.99" y1="382.16" x2="306.50" y2="382.16" stroke="#b4b4b4" stroke-width="0.5"/>
<line x1="305.99" y1="383.48" x2="307.37" y2="383.48" stroke="#b4b4b4" stroke-width="0.5"/>
<line x1="306.50" y1="382.16" x2="312.50" y2="382.16" stroke="#b4b4b4" stroke-width="0.5"/>
<line x1="307.37" y1="383.48" x2="312.50" y2="383.48" stroke="#b4b4b4" stroke-width="0.5"/>
<line x1="304.65" y1="387.42" x2="304.65" y2="395.29" stroke="#b4b4b4" stroke-width="0.5"/>
<line x1="304.65" y1="387.42" x2="305.67" y2="387.42" stroke="#b4b4b4" stroke-width="0.5"/>
<line x1="304.65" y1="395.29" x2="305.94" y2="395.29" stroke="#b4b4b4" stroke-width="0.5"/>
<line x1="305.67" y1="385.90" x2="305.67" y2="389.06" stroke="#b4b4b4" stroke-width="0.5"/>
<line x1="305.67" y1="385.90" x2="306.52" y2="385.90" stroke="#b4b4b4" stroke-width="0.5"/>
<line x1="305.67" y1="389.06" x2="306.74" y2="389.06" stroke="#b4b4b4" stroke-width="0.5"/>
<line x1="306.52" y1="385.11" x2="306.52" y2="386.74" stroke="#b4b4b4" stroke-width="0.5"/>
<line x1="306.52" y1="385.11" x2="307.89" y2="385.11" stroke="#b4b4b4" stroke-width="0.5"/>
<line x1="306.52" y1="386.74" x2="307.14" y2="386.74" stroke="#b4b4b4" stroke-width="0.5"/>
<line x1="307.89" y1="385.11" x2="312.50" y2="385.11" stroke="#b4b4b4" stroke-width="0.5"/>
<line x1="307.14" y1="386.74" x2="312.50" y2="386.74" stroke="#b4b4b4" stroke-width="0.5"/>
<line x1="306.74" y1="388.32" x2="306.74" y2="389.85" stroke="#b4b4b4" stroke-width="0.5"/>
<line x1="306.74" y1="388.32" x2="307.51" y2="388.32" stroke="#b4b4b4" stroke-width="0.5"/>
<line x1="306.74" y1="389.85" x2="307.54" y2="389.85" stroke="#b4b4b4" stroke-width="0.5"/>
<line x1="307.51" y1="388.32" x2="312.50" y2="388.32" stroke="#b4b4b4" stroke-width="0.5"/>
<line x1="307.54" y1="389.85" x2="312.50" y2="389.85" stroke="#b4b4b4" stroke-width="0.5"/>
<line x1="305.94" y1="393.32" x2="305.94" y2="398.03" stroke="#b4b4b4" stroke-width="0.5"/>
<line x1="305.94" y1="393.32" x2="307.00" y2="393.32" stroke="#b4b4b4" stroke-width="0.5"/>
<line x1="305.94" y1="398.03" x2="307.06" y2="398.03" stroke="#b4b4b4" stroke-width="0.5"/>
<line x1="307.00" y1="392.17" x2="307.00" y2="394.91" stroke="#b4b4b4" stroke-width="0.5"/>
<line x1="307.00" y1="392.17" x2="308.51" y2="392.17" stroke="#b4b4b4" stroke-width="0.5"/>
<line x1="307.00" y1="394.91" x2="307.99" y2="394.91" stroke="#b4b4b4" stroke-width="0.5"/>
<line x1="308.51" y1="391.43" x2="308.51" y2="393.01" stroke="#b4b4b4" stroke-width="0.5"/>
<line x1="308.51" y1="391.43" x2="309.56" y2="391.43" stroke="#b4b4b4" stroke-width="0.5"/>
<line x1="308.51" y1="393.01" x2="309.57" y2="393.01" stroke="#b4b4b4" stroke-width="0.5"/>
<line x1="309.56" y1="391.43" x2="312.50" y2="391.43" stroke="#b4b4b4" stroke-width="0.5"/>
<line x1="309.57" y1="393.01" x2="312.50" y2="393.01" stroke="#b4b4b4" stroke-width="0.5"/>
<line x1="307.99" y1="394.91" x2="312.50" y2="394.91" stroke="#b4b4b4" stroke-width="0.5"/>
<line x1="307.06" y1="397.16" x2="307.06" y2="399.13" stroke="#b4b4b4" stroke-width="0.5"/>
<line x1="307.06" y1="397.16" x2="308.06" y2="397.16" stroke="#b4b4b4" stroke-width="0.5"/>
<line x1="307.06" y1="399.13" x2="308.15" y2="399.13" stroke="#b4b4b4" stroke-width="0.5"/>
<line x1="308.06" y1="397.16" x2="312.50" y2="397.16" stroke="#b4b4b4" stroke-width="0.5"/>
<line x1="308.15" y1="399.13" x2="312.50" y2="399.13" stroke="#b4b4b4" stroke-width="0.5"/>
<line x1="303.50" y1="406.66" x2="303.50" y2="420.16" stroke="#b4b4b4" stroke-width="0.5"/>
<line x1="303.50" y1="406.66" x2="305.04" y2="406.66" stroke="#b4b4b4" stroke-width="0.5"/>
<line x1="303.50" y1="420.16" x2="304.77" y2="420.16" stroke="#b4b4b4" stroke-width="0.5"/>
<line x1="305.04" y1="404.08" x2="305.04" y2="410.74" stroke="#b4b4b4" stroke-width="0.5"/>
<line x1="305.04" y1="404.08" x2="306.57" y2="404.08" stroke="#b4b4b4" stroke-width="0.5"/>
<line x1="305.04" y1="410.74" x2="305.82" y2="410.74" stroke="#b4b4b4" stroke-width="0.5"/>
<line x1="306.57" y1="402.11" x2="306.57" y2="406.20" stroke="#b4b4b4" stroke-width="0.5"/>
<line x1="306.57" y1="402.11" x2="308.11" y2="402.11" stroke="#b4b4b4" stroke-width="0.5"/>
<line x1="306.57" y1="406.20" x2="308.00" y2="406.20" stroke="#b4b4b4" stroke-width="0.5"/>
<line x1="308.11" y1="400.83" x2="308.11" y2="402.94" stroke="#b4b4b4" stroke-width="0.5"/>
<line x1="308.11" y1="400.83" x2="308.74" y2="400.83" stroke="#b4b4b4" stroke-width="0.5"/>
<line x1="308.11" y1="402.94" x2="309.10" y2="402.94" stroke="#b4b4b4" stroke-width="0.5"/>
<line x1="308.74" y1="400.83" x2="312.50" y2="400.83" stroke="#b4b4b4" stroke-width="0.5"/>
<line x1="309.10" y1="402.94" x2="312.50" y2="402.94" stroke="#b4b4b4" stroke-width="0.5"/>
<line x1="308.00" y1="404.96" x2="308.00" y2="406.93" stroke="#b4b4b4" stroke-width="0.5"/>
<line x1="308.00" y1="404.96" x2="308.76" y2="404.96" stroke="#b4b4b4" stroke-width="0.5"/>
<line x1="308.00" y1="406.93" x2="308.58" y2="406.93" stroke="#b4b4b4" stroke-width="0.5"/>
<line x1="308.76" y1="404.96" x2="312.50" y2="404.96" stroke="#b4b4b4" stroke-width="0.5"/>
<line x1="308.58" y1="406.93" x2="312.50" y2="406.93" stroke="#b4b4b4" stroke-width="0.5"/>
<line x1="305.82" y1="409.59" x2="305.82" y2="412.16" stroke="#b4b4b4" stroke-width="0.5"/>
<line x1="305.82" y1="409.59" x2="307.18" y2="409.59" stroke="#b4b4b4" stroke-width="0.5"/>
<line x1="305.82" y1="412.16" x2="307.31" y2="412.16" stroke="#b4b4b4" stroke-width="0.5"/>
<line x1="307.18" y1="408.73" x2="307.18" y2="410.15" stroke="#b4b4b4" stroke-width="0.5"/>
<line x1="307.18" y1="408.73" x2="308.47" y2="408.73" stroke="#b4b4b4" stroke-width="0.5"/>
<line x1="307.18" y1="410.15" x2="308.41" y2="410.15" stroke="#b4b4b4" stroke-width="0.5"/>
<line x1="308.47" y1="408.73" x2="312.50" y2="408.73" stroke="#b4b4b4" stroke-width="0.5"/>
<line x1="308.41" y1="410.15" x2="312.50" y2="410.15" stroke="#b4b4b4" stroke-width="0.5"/>
<line x1="307.31" y1="412.16" x2="312.50" y2="412.16" stroke="#b4b4b4" stroke-width="0.5"/>
<line x1="304.77" y1="416.01" x2="304.77" y2="422.85" stroke="#b4b4b4" stroke-width="0.5"/>
<line x1="304.77" y1="416.01" x2="306.24" y2="416.01" stroke="#b4b4b4" stroke-width="0.5"/>
<line x1="304.77" y1="422.85" x2="306.33" y2="422.85" stroke="#b4b4b4" stroke-width="0.5"/>
<line x1="306.24" y1="414.44" x2="306.24" y2="417.13" stroke="#b4b4b4" stroke-width="0.5"/>
<line x1="306.24" y1="414.44" x2="307.79" y2="414.44" stroke="#b4b4b4" stroke-width="0.5"/>
<line x1="306.24" y1="417.13" x2="307.18" y2="417.13" stroke="#b4b4b4" stroke-width="0.5"/>
<line x1="307.79" y1="414.44" x2="312.50" y2="414.44" stroke="#b4b4b4" stroke-width="0.5"/>
<line x1="307.18" y1="416.34" x2="307.18" y2="417.91" stroke="#b4b4b4" stroke-width="0.5"/>
<line x1="307.18" y1="416.34" x2="308.77" y2="416.34" stroke="#b4b4b4" stroke-width="0.5"/>
<line x1="307.18" y1="417.91" x2="308.59" y2="417.91" stroke="#b4b4b4" stroke-width="0.5"/>
<line x1="308.77" y1="416.34" x2="312.50" y2="416.34" stroke="#b4b4b4" stroke-width="0.5"/>
<line x1="308.59" y1="417.91" x2="312.50" y2="417.91" stroke="#b4b4b4" stroke-width="0.5"/>
<line x1="306.33" y1="420.35" x2="306.33" y2="424.50" stroke="#b4b4b4" stroke-width="0.5"/>
<line x1="306.33" y1="420.35" x2="307.31" y2="420.35" stroke="#b4b4b4" stroke-width="0.5"/>
<line x1="306.33" y1="424.50" x2="307.40" y2="424.50" stroke="#b4b4b4" stroke-width="0.5"/>
<line x1="307.31" y1="419.44" x2="307.31" y2="421.10" stroke="#b4b4b4" stroke-width="0.5"/>
<line x1="307.31" y1="419.44" x2="308.02" y2="419.44" stroke="#b4b4b4" stroke-width="0.5"/>
<line x1="307.31" y1="421.10" x2="308.16" y2="421.10" stroke="#b4b4b4" stroke-width="0.5"/>
<line x1="308.02" y1="419.44" x2="312.50" y2="419.44" stroke="#b4b4b4" stroke-width="0.5"/>
<line x1="308.16" y1="421.10" x2="312.50" y2="421.10" stroke="#b4b4b4" stroke-width="0.5"/>
<line x1="307.40" y1="423.42" x2="307.40" y2="425.92" stroke="#b4b4b4" stroke-width="0.5"/>
<line x1="307.40" y1="423.42" x2="307.92" y2="423.42" stroke="#b4b4b4" stroke-width="0.5"/>
<line x1="307.40" y1="425.92" x2="308.51" y2="425.92" stroke="#b4b4b4" stroke-width="0.5"/>
<line x1="307.92" y1="422.69" x2="307.92" y2="424.10" stroke="#b4b4b4" stroke-width="0.5"/>
<line x1="307.92" y1="422.69" x2="308.44" y2="422.69" stroke="#b4b4b4" stroke-width="0.5"/>
<line x1="307.92" y1="424.10" x2="308.79" y2="424.10" stroke="#b4b4b4" stroke-width="0.5"/>
<line x1="308.44" y1="422.69" x2="312.50" y2="422.69" stroke="#b4b4b4" stroke-width="0.5"/>
<line x1="308.79" y1="424.10" x2="312.50" y2="424.10" stroke="#b4b4b4" stroke-width="0.5"/>
<line x1="308.51" y1="425.92" x2="312.50" y2="425.92" stroke="#b4b4b4" stroke-width="0.5"/>
<line x1="482.40" y1="182.30" x2="482.40" y2="315.80" stroke="#333333" stroke-width="1.2"/>
<line x1="485.30" y1="317.20" x2="485.30" y2="358.10" stroke="#333333" stroke-width="1.2"/>
<line x1="482.30" y1="360.30" x2="482.30" y2="370.90" stroke="#333333" stroke-width="1.2"/>
<line x1="485.50" y1="372.00" x2="485.50" y2="427.40" stroke="#333333" stroke-width="1.2"/>
<text x="484.90" y="253.80" font-size="6.6" text-anchor="start" textLength="22.50" lengthAdjust="spacingAndGlyphs" fill="#1c1c1c">Group 1</text>
<text x="488.90" y="340.40" font-size="6.6" text-anchor="start" textLength="22.50" lengthAdjust="spacingAndGlyphs" fill="#1c1c1c">Group 2</text>
<text x="485.70" y="367.20" font-size="6.6" text-anchor="start" textLength="23.00" lengthAdjust="spacingAndGlyphs" fill="#1c1c1c">Group 3</text>
<text x="488.50" y="400.20" font-size="6.6" text-anchor="start" textLength="22.30" lengthAdjust="spacingAndGlyphs" fill="#1c1c1c">Group 4</text>
<text transform="translate(473.0,295.0) rotate(90)" font-size="6.3" fill="#1c1c1c" textLength="19.1" lengthAdjust="spacingAndGlyphs">Introns</text>
<text transform="translate(335.00,432.90) rotate(-45)" font-size="5.7" fill="#1c1c1c" text-anchor="end">Pro</text>
<text transform="translate(375.80,432.10) rotate(-45)" font-size="5.7" fill="#1c1c1c" text-anchor="end">Baso</text>
<text transform="translate(416.50,432.90) rotate(-45)" font-size="5.7" fill="#1c1c1c" text-anchor="end">Poly</text>
<text transform="translate(455.80,433.40) rotate(-45)" font-size="5.7" fill="#1c1c1c" text-anchor="end">Ortho</text>
</svg>
</body></html>
